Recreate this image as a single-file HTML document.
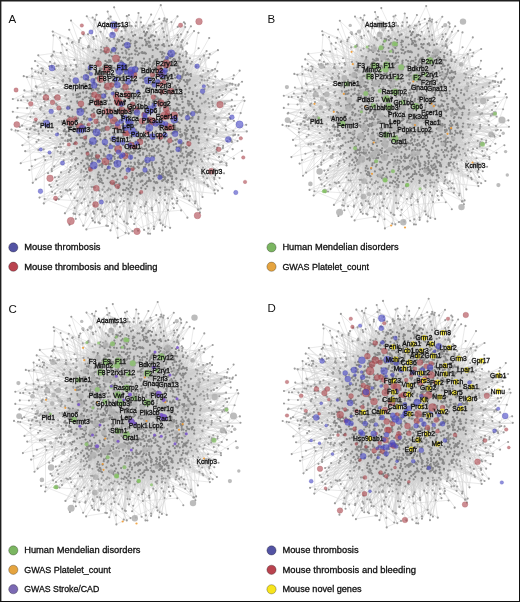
<!DOCTYPE html>
<html><head><meta charset="utf-8"><style>
html,body{margin:0;padding:0;background:#fff;}
body{width:520px;height:602px;overflow:hidden;position:relative;}
svg{position:absolute;left:0;top:0;}
text{font-family:"Liberation Sans",sans-serif;}
</style></head><body>
<svg width="520" height="602" viewBox="0 0 520 602">
<defs><filter id="bl" x="-5%" y="-5%" width="110%" height="110%"><feGaussianBlur stdDeviation=".55"/></filter><radialGradient id="hz"><stop offset="0" stop-color="#d2d2d2"/><stop offset=".8" stop-color="#d2d2d2"/><stop offset="1" stop-color="#d2d2d2" stop-opacity="0"/></radialGradient>
<g id="net"><ellipse cx="143" cy="113" rx="74" ry="84" fill="url(#hz)"/><path fill="none" stroke="#cccccc" stroke-width=".42" d="M127 71L131 83M53 144L98 137M53 144L72 133M134 58L141 82M61 163L65 142M61 163L131 76M61 163L98 137M51 103L93 107M225 156L198 128M225 156L186 145M152 34L118 59M152 34L172 86M152 34L117 54M238 130L188 107M238 130L217 132M105 97L117 104M146 76L130 69M118 123L134 148M100 122L109 97M138 171L156 105M63 85L93 107M63 85L87 94M63 85L97 101M154 100L149 123M114 217L122 148M118 122L100 119M187 148L191 129M166 149L177 74M211 172L190 125M211 172L190 181M141 215L153 150M141 215L170 186M173 144L146 169M96 75L191 127M153 150L152 110M105 87L100 148M154 70L151 64M198 31L170 65M198 31L163 58M198 31L164 83M164 44L142 97M164 44L148 51M169 43L134 58M169 43L134 58M106 99L110 125M147 170L150 76M153 105L126 65M188 107L142 117M74 93L107 159M131 43L150 111M139 148L182 142M134 215L134 148M134 215L138 160M91 141L98 137M158 77L162 94M52 121L84 115M52 121L74 127M52 121L107 120M95 157L91 83M141 172L184 142M150 131L92 89M178 151L97 101M149 93L139 109M106 110L115 68M136 79L116 110M122 168L118 176M149 156L141 152M104 137L132 123M199 108L126 65M146 47L131 28M185 181L188 142M185 181L177 129M77 112L193 108M84 72L100 86M185 46L168 73M77 103L89 124M80 186L113 140M163 95L174 93M229 157L220 144M229 157L184 142M229 157L191 146M174 141L138 160M42 74L91 83M162 157L187 155M96 121L77 123M189 163L172 86M220 95L175 104M220 95L195 110M220 95L184 85M204 58L208 99M204 58L190 91M207 161L178 146M207 161L188 107M207 161L154 165M43 121L56 114M43 121L58 126M43 121L93 94M147 199L165 162M90 148L181 100M168 174L149 156M84 72L56 72M68 64L107 93M68 64L85 92M68 64L105 76M152 119L160 145M140 87L131 88M112 63L109 77M145 161L120 177M132 123L121 121M120 33L152 61M120 33L134 58M120 33L135 64M196 60L154 70M196 60L174 124M160 220L158 202M160 220L172 196M160 220L165 195M186 112L100 119M95 220L140 147M95 220L114 217M235 144L151 64M112 88L106 99M119 33L107 72M119 33L134 58M119 33L112 50M196 133L182 104M208 54L211 82M208 54L143 99M208 54L190 94M105 76L123 98M157 36L126 65M159 165L134 148M147 18L145 52M95 17L115 49M95 17L125 28M95 17L135 64M237 102L138 160M237 102L220 114M37 75L51 66M37 75L50 105M167 24L136 53M167 24L141 43M167 24L182 87M146 145L166 126M204 106L186 116M121 47L141 45M136 23L152 41M136 23L150 76M136 23L150 76M138 118L116 115M65 192L86 177M65 192L124 123M65 192L106 150M183 46L151 64M183 46L151 76M249 127L237 117M249 127L191 127M249 127L191 129M107 118L153 150M160 218L153 150M160 218L104 153M209 127L100 148M116 101L144 95M187 73L191 59M110 119L87 91M176 22L184 57M157 75L177 55M115 183L117 165M169 169L169 155M182 96L143 63M103 72L191 129M172 69L143 69M84 210L86 193M147 175L143 99M204 204L202 160M204 204L153 150M204 204L177 128M187 46L144 54M93 139L132 65M138 179L156 155M226 141L191 129M113 150L140 144M78 131L191 127M149 123L168 73M102 77L92 89M45 125L78 116M146 169L165 166M192 82L172 86M180 92L167 70M127 97L139 109M153 145L156 105M194 86L140 147M92 115L134 148M182 150L99 95M107 159L139 109M229 83L212 69M170 52L143 61M173 158L113 140M86 158L164 83M170 101L198 98M148 37L119 55M148 37L143 99M125 159L143 105M109 104L124 123M81 113L78 116M170 170L149 149M97 45L114 90M206 155L185 146M111 150L130 172M127 169L138 176M92 85L108 169M213 76L172 72M213 76L152 169M199 195L177 172M199 195L172 174M93 170L150 111M166 131L134 58M123 67L100 148M134 46L139 109M138 108L135 64M176 169L168 73M44 93L98 137M44 93L86 105M44 93L54 110M126 40L123 52M98 154L177 128M180 58L172 69M191 170L165 169M202 103L208 119M184 91L174 124M124 95L121 77M141 73L184 142M105 118L103 72M174 139L185 146M241 82L204 74M223 156L189 129M97 46L172 72M97 46L133 66M125 228L165 211M125 228L108 169M125 228L122 148M86 193L108 172M157 131L139 122M89 90L164 83M188 183L149 174M143 142L151 141M117 134L96 146M135 58L131 83M126 177L115 171M127 194L106 214M88 130L135 58M194 149L186 173M135 86L103 94M57 117L86 115M57 117L99 95M57 117L79 135M54 89L93 107M54 89L97 101M159 119L143 99M90 195L108 169M90 195L108 169M90 195L110 189M153 165L91 83M101 18L119 55M101 18L114 90M90 120L90 105M177 74L163 48M65 100L134 58M170 20L143 63M199 118L135 58M123 27L152 78M172 174L157 150M109 49L117 54M154 219L152 169M41 113L103 94M41 113L84 115M218 183L172 72M218 183L158 157M141 162L143 63M135 16L123 52M191 78L195 62M131 81L116 61M182 75L211 78M192 80L191 52M153 179L130 80M144 119L107 159M200 65L142 97M226 92L194 98M131 83L132 98M204 95L115 68M191 116L177 74M40 125L73 126M40 125L122 148M40 125L65 100M61 180L98 171M61 180L99 140M61 180L75 183M195 168L174 124M68 117L188 107M165 97L158 77M198 125L133 75M213 125L208 150M198 105L103 161M188 69L187 73M172 92L159 74M122 151L125 152M206 189L191 129M206 189L142 117M206 189L213 149M142 41L158 65M130 63L147 67M185 142L189 166M100 115L98 137M162 60L134 148M176 51L177 74M184 57L114 90M182 127L152 169M140 138L152 110M70 146L153 150M166 74L158 86M161 68L149 52M125 132L113 113M231 116L205 144M80 155L99 163M116 95L97 85M127 208L145 168M127 208L145 157M127 208L100 185M185 78L187 74M218 141L185 130M218 141L149 174M112 63L152 110M45 122L54 110M89 166L67 146M148 174L113 140M66 174L95 165M66 174L104 153M116 79L135 64M66 101L142 117M166 75L160 62M240 136L217 148M240 136L184 111M240 136L203 123M197 156L172 161M222 113L182 87M222 113L150 76M222 113L144 119M156 224L145 138M79 64L76 49M186 150L178 176M122 148L139 109M143 22L130 44M121 89L104 76M185 132L118 122M64 94L135 58M117 54L106 64M162 47L184 111M149 149L161 129M182 191L172 167M222 164L203 138M222 164L159 137M103 180L139 109M185 93L87 91M115 12L131 76M115 12L135 58M120 194L159 137M120 194L141 158M155 141L138 160M102 56L119 33M54 191L86 193M54 191L94 207M114 194L134 148M114 194L153 150M111 126L145 157M192 125L187 110M175 154L179 162M189 166L184 111M108 89L100 148M168 170L150 111M88 206L110 182M139 104L122 117M55 102L73 126M177 128L150 76M70 130L70 142M166 74L188 71M191 108L168 89M137 40L125 52M190 142L168 137M24 96L55 91M24 96L47 84M108 175L174 124M103 214L104 153M103 214L101 173M213 53L184 57M172 161L158 157M55 154L131 135M55 154L104 153M199 194L176 169M199 194L203 149M199 194L184 142M151 99L91 83M148 132L146 104M47 84L107 93M47 84L74 68M177 154L131 76M218 112L180 135M218 112L194 86M218 112L190 125M121 77L188 107M129 60L104 153M74 127L100 122M114 115L84 115M117 194L149 174M117 194L138 160M117 194L107 159M148 51L182 142M190 73L186 111M190 181L197 145M194 193L191 129M194 193L160 181M194 193L157 174M193 78L182 104M120 162L137 141M166 6L133 75M166 6L172 22M105 122L105 136M136 203L132 123M136 203L140 147M136 203L141 162M169 158L162 94M170 126L154 104M116 115L151 64M180 163L189 163M137 180L163 176M187 40L177 74M187 40L150 111M184 85L184 111M75 183L113 140M75 183L110 182M85 71L87 41M160 181L160 169M143 127L134 58M142 64L118 59M173 56L168 51M195 62L152 78M195 62L167 53M195 62L162 94M54 96L79 77M204 74L145 138M45 59L87 91M45 59L75 64M45 59L103 94M109 46L142 117M170 186L168 73M160 96L138 160M109 71L142 117M164 146L178 128M148 66L97 101M107 155L92 89M197 114L132 123M164 80L186 74M159 120L99 140M208 99L108 169M84 81L106 150M156 26L150 111M156 26L143 99M156 26L125 39M96 150L152 110M46 70L104 153M46 70L114 90M46 70L103 94M90 107L114 115M218 163L191 129M218 163L196 133M129 86L143 63M130 44L151 64M227 167L188 152M227 167L184 142M112 179L168 73M100 85L122 148M147 22L172 86M147 22L139 57M118 158L93 160M136 73L151 68M102 152L143 105M144 222L117 129M59 64L97 101M59 64L79 77M24 108L84 115M208 124L186 116M138 74L103 72M79 84L145 157M90 75L72 79M167 221L176 180M108 83L100 83M62 65L88 93M62 65L87 94M142 50L190 125M234 87L222 94M234 87L149 174M83 58L119 64M152 158L148 166M143 47L169 59M93 192L114 90M93 192L121 162M145 138L139 109M181 115L197 114M108 201L86 177M108 201L142 117M108 201L138 171M63 35L61 64M84 206L98 171M84 206L99 140M170 172L172 72M138 69L134 47M135 182L172 72M146 186L136 203M146 104L125 97M179 162L182 104M107 109L156 105M152 61L131 76M180 52L188 107M88 124L71 117M97 161L134 58M147 186L135 182M102 112L172 86M191 53L143 105M87 91L75 68M239 92L206 77M165 211L159 172M165 211L169 155M132 49L135 58M129 103L141 121M134 65L119 64M101 173L112 163M54 110L91 133M54 110L100 148M54 110L93 107M96 114L133 75M112 208L86 177M112 208L169 155M138 187L138 171M42 67L78 76M42 67L54 110M42 67L42 97M153 61L131 76M103 20L139 109M103 20L115 68M103 20L133 75M100 210L89 174M100 210L182 142M100 210L79 182M85 65L81 86M143 140L144 119M113 63L124 123M72 79L168 73M127 73L130 61M152 52L172 72M106 128L181 100M161 44L108 169M124 199L153 150M124 199L116 166M124 199L118 175M118 67L131 135M91 83L182 87M84 125L139 109M186 41L173 80M186 41L170 77M242 69L236 76M105 115L90 105M238 82L195 72M146 168L143 140M106 150L135 64M185 125L152 169M202 201L153 150M143 81L122 76M73 149L132 123M160 167L153 157M221 69L187 98M221 69L162 94M221 69L191 61M100 148L191 127M75 64L91 83M75 64L85 82M173 202L184 142M173 202L152 169M173 202L149 174M163 60L137 46M126 39L135 48M185 88L150 111M118 67L118 81M151 39L143 63M151 39L135 64M83 190L103 161M83 190L103 161M49 129L68 117M48 70L63 112M170 171L117 129M190 166L107 93M104 150L103 161M172 22L139 109M172 22L164 62M172 22L124 123M216 98L188 109M216 98L197 114M216 98L169 155M159 132L174 124M124 74L175 104M174 53L91 83M145 157L159 161M89 38L99 95M197 103L93 107M85 92L175 104M167 53L169 155M192 32L184 57M192 32L164 83M174 77L166 96M170 133L171 113M165 162L126 65M138 203L149 178M138 203L140 147M200 132L198 105M138 26L164 83M138 26L116 64M138 26L143 105M118 139L130 134M206 100L197 89M182 124L143 99M230 146L192 154M230 146L200 132M230 146L190 159M92 217L75 183M92 217L98 195M92 217L112 185M186 141L190 159M186 76L191 52M138 176L110 176M141 196L154 165M141 196L165 172M134 123L175 104M71 78L93 94M154 165L107 120M212 56L182 104M212 56L152 110M212 56L176 51M48 144L80 133M48 144L84 125M48 144L103 161M73 121L95 131M127 165L120 194M219 74L219 106M219 74L182 75M205 144L206 155M183 82L154 165M149 64L140 76M151 205L185 177M151 205L146 169M151 205L117 194M91 47L114 90M91 47L109 49M91 47L126 65M170 192L154 165M174 142L106 150M82 68L117 129M91 133L168 73M84 115L79 124M155 126L162 133M177 175L104 153M169 36L160 60M156 45L143 105M163 48L172 75M105 118L86 115M117 97L142 97M241 83L152 110M241 83L188 107M136 106L145 87M134 157L107 159M100 180L109 158M127 106L159 137M181 111L198 128M244 145L207 170M166 126L181 106M236 126L203 107M236 126L177 129M98 171L193 108M135 48L145 157M180 60L169 155M152 143L130 130M145 13L141 49M145 13L135 58M145 13L148 51M196 158L190 142M125 58L135 58M181 166L130 80M144 143L131 135M71 44L79 79M71 44L109 67M219 164L199 171M186 173L172 182M159 49L106 150M187 54L168 73M108 188L99 95M185 101L184 119M131 83L182 87M176 91L157 75M112 26L130 63M112 26L103 94M100 185L101 173M101 98L90 105M122 104L119 86M130 123L158 157M169 59L143 63M152 176L103 72M173 169L165 187M173 53L158 157M166 134L154 165M45 154L117 129M45 154L118 122M122 202L130 176M177 172L133 75M110 95L103 72M213 103L187 98M66 64L85 92M66 64L103 72M180 86L191 108M211 135L93 107M202 32L184 142M226 143L191 129M226 143L187 155M226 143L184 142M162 169L152 78M68 89L87 91M158 77L130 87M141 43L182 104M128 59L115 49M111 65L120 84M168 137L145 157M161 93L188 107M91 181L138 160M91 181L108 169M185 177L131 135M152 140L193 108M87 108L86 114M168 56L93 94M163 141L160 145M56 72L93 107M248 120L211 135M248 120L222 139M151 161L87 91M119 51L134 148M198 169L190 130M198 169L193 108M198 169L134 148M50 106L100 119M50 106L103 161M50 106L88 124M113 123L87 91M94 153L172 86M141 144L164 146M162 108L191 127M132 149L139 109M172 63L117 129M120 187L120 162M58 167L142 117M149 110L84 115M179 63L150 57M187 167L168 73M178 196L145 157M179 200L170 192M195 157L183 145M147 133L84 115M183 152L157 150M222 139L191 127M145 87L121 77M202 201L191 127M202 201L194 157M202 201L182 191M124 116L137 138M84 160L97 171M174 45L115 68M174 45L143 105M174 45L135 58M216 100L173 101M141 109L122 116M174 182L181 100M118 153L113 130M190 24L170 52M190 24L162 94M190 24L151 64M212 153L146 169M46 117L100 119M219 177L191 129M148 99L157 91M135 64L177 128M185 137L179 162M168 167L135 64M150 155L87 91M120 208L148 174M120 208L113 140M120 208L118 176M139 128L162 94M43 176L39 132M43 176L55 154M43 176L100 119M166 180L175 104M194 77L93 94M157 35L130 56M157 35L147 67M157 35L164 83M100 83L90 75M167 88L139 109M89 125L61 127M192 209L182 195M150 132L91 83M166 90L181 67M181 139L107 120M193 102L167 115M149 45L138 160M221 49L188 71M221 49L186 76M221 49L150 76M165 166L162 169M158 157L99 95M148 75L132 65M64 160L96 151M64 160L132 123M37 125L93 94M37 125L72 138M206 77L186 116M206 77L182 69M118 221L134 148M118 221L135 182M210 125L234 135M42 97L93 107M42 97L93 107M42 97L100 119M55 91L97 101M55 91L73 85M55 91L122 148M162 193L158 159M162 193L135 163M162 193L134 148M122 137L120 116M136 148L136 164M188 71L135 58M108 79L124 123M121 157L107 174M152 44L104 153M112 63L133 52M60 133L74 136M166 51L100 119M195 74L107 120M103 56L172 72M172 132L179 155M184 53L164 83M184 53L133 75M75 68L116 110M75 68L107 99M102 80L92 62M153 85L138 108M157 15L135 58M157 15L141 43M176 123L131 76M181 85L143 99M88 142L184 142M225 181L195 157M225 181L190 125M63 50L93 107M63 50L115 68M192 72L130 80M195 26L172 72M195 26L177 55M202 160L142 117M202 160L165 172M202 160L142 117M155 101L173 101M79 122L96 114M168 73L166 67M70 166L111 150M70 166L98 154M70 166L101 173M49 118L100 119M49 118L74 110M28 104L139 109M153 157L139 109M119 215L108 172M124 42L142 61M29 126L48 135M29 126L134 148M29 126L48 120M112 65L102 80M143 167L118 175M98 164L100 149M199 171L152 169M199 171L205 144M104 15L84 115M104 15L97 46M79 161L191 129M220 125L191 129M220 125L175 104M116 143L98 137M139 122L149 119M220 142L182 142M181 125L204 107M178 128L181 115M146 37L139 109M146 37L126 74M146 37L134 58M158 140L153 150M187 104L204 95M157 144L182 104M107 101L132 123M183 66L164 67M144 176L135 58M48 120L93 94M48 120L84 115M48 120L70 108M186 44L176 51M186 44L155 46M221 183L189 166M221 183L177 129M221 183L181 166M122 61L100 119M160 73L161 93M197 123L192 134M170 74L177 74M186 91L143 99M101 212L126 186M101 212L117 194M101 212L131 135M203 47L164 83M196 125L199 108M44 110L99 95M44 110L116 110M44 110L72 138M128 110L110 95M184 109L190 125M141 157L151 64M176 55L185 69M156 164L181 100M162 120L137 105M206 74L156 105M206 74L194 85M206 74L209 114M171 185L170 171M118 59L134 82M145 158L168 153M160 145L167 123M170 77L143 63M117 68L175 104M185 66L159 81M92 81L113 63M114 45L130 62M130 130L109 147M194 98L204 108M187 155L216 158M96 151L99 140M186 202L151 205M186 202L153 150M150 94L98 137M90 105L81 86M106 153L124 123M186 143L167 157M189 83L150 111M100 86L95 115M28 114L87 91M28 114L93 94M165 163L178 176M127 178L132 123M185 150L169 158M185 157L194 149M180 93L143 63M165 109L190 94M113 158L92 89M166 96L175 122M173 175L100 119M172 98L147 95M117 158L93 107M168 216L159 183M168 216L170 172M168 216L152 196M137 209L134 148M137 209L144 176M92 112L106 99M137 105L165 116M85 133L100 138M247 97L234 135M247 97L181 100M247 97L191 127M183 34L153 43M183 34L151 62M90 121L134 58M81 41L97 101M81 41L100 119M81 41L99 95M129 48L123 27M64 186L89 166M64 186L124 123M200 155L211 135M106 90L113 140M113 140L146 169M120 169L98 170M218 172L194 163M218 172L184 142M155 46L107 120M217 81L188 107M217 81L186 111M108 91L106 150M233 81L199 108M233 81L204 74M233 81L168 73M182 69L204 74M111 67L129 86M200 133L174 124M220 126L203 113M220 126L177 129M159 74L145 138M130 162L184 111M225 77L193 102M60 60L97 101M140 87L87 91M177 161L182 150M74 110L172 86M213 37L193 72M185 77L152 169M96 46L114 90M96 46L104 76M96 46L92 89M125 219L110 208M169 31L173 53M169 31L116 110M169 31L158 65M151 35L117 59M151 35L161 58M103 161L156 105M100 88L80 98M94 162L152 169M207 91L194 118M106 108L158 157M235 82L208 86M235 82L193 78M235 82L193 108M155 171L136 164M139 57L155 46M175 95L158 77M101 203L103 161M138 53L113 62M104 151L99 140M82 205L89 166M82 205L104 153M82 205L118 189M189 189L167 150M189 189L183 152M241 130L223 156M133 108L93 94M97 67L162 94M121 8L162 94M78 116L159 137M126 59L147 67M98 123L106 130M130 61L116 110M102 205L134 148M102 205L127 178M102 205L132 123M97 62L186 111M125 97L193 108M222 94L184 85M144 108L140 147M239 86L152 78M239 86L188 107M239 86L175 104M109 153L87 91M192 183L138 160M192 183L156 164M192 183L169 164M177 44L142 117M152 33L168 73M152 33L87 91M152 33L135 58M181 165L84 115M110 124L103 142M100 155L182 142M152 134L155 148M78 29L107 93M149 133L156 105M151 177L177 191M97 95L175 104M82 122L84 137M103 72L114 91M65 142L61 165M168 153L152 143M148 166L190 125M159 76L177 128M90 103L93 107M136 174L118 155M104 49L151 64M133 214L138 160M133 214L134 148M143 50L150 31M112 117L105 139M46 84L87 91M46 84L84 81M46 84L74 68M190 133L167 132M127 93L130 87M139 100L144 119M50 91L82 122M50 91L85 65M50 91L73 85M174 187L145 138M174 187L152 169M174 187L134 148M134 82L143 63M155 167L165 162M158 64L156 105M182 87L184 111M140 107L145 157M35 88L50 91M35 88L87 91M35 88L132 123M236 106L194 100M236 106L174 124M236 106L165 162M81 42L115 68M81 42L115 68M90 157L94 153M108 71L184 142M207 170L167 168M207 170L158 157M122 24L137 46M133 51L131 76M175 105L160 118M218 186L182 87M218 186L188 183M218 186L193 149M199 147L107 159M107 72L114 90M135 39L126 65M85 152L97 160M198 98L191 129M159 183L155 158M156 63L154 165M192 59L169 69M119 55L107 159M108 51L103 161M136 26L119 55M136 26L135 64M154 104L172 72M70 51L102 80M70 51L82 91M70 51L97 101M142 137L154 135M182 160L178 162M92 62L68 64M220 114L184 111M220 114L193 109M107 109L110 125M80 133L79 121M154 224L137 209M154 224L177 191M154 224L145 157M154 29L151 64M154 29L158 56M154 29L177 74M172 58L165 79M150 221L138 160M118 135L113 140M132 183L191 129M69 139L184 111M96 34L125 52M96 34L107 93M70 108L91 83M61 127L135 64M147 135L143 63M186 74L196 96M209 113L168 73M107 92L118 122M138 147L91 83M142 146L149 156M108 172L92 160M104 153L130 140M71 189L90 164M71 189L84 154M71 189L79 147M106 69L100 148M86 105L114 97M161 128L193 108M203 138L142 97M106 214L97 171M106 214L117 194M116 19L157 35M116 19L151 35M116 19L133 75M47 137L78 120M194 118L114 90M121 170L115 183M121 176L174 124M76 43L115 68M165 19L126 39M172 148L107 159M217 84L139 109M217 84L185 78M217 84L156 105M201 109L194 118M89 133L105 154M191 61L130 63M191 61L166 74M191 61L173 63M94 144L99 125M86 177L122 178M158 86L191 127M183 101L143 105M111 47L159 137M155 148L165 162M153 32L150 76M153 32L143 47M96 77L98 137M232 110L182 142M100 138L80 125M125 28L117 54M125 28L103 72M125 28L132 65M191 188L169 155M97 150L106 171M167 70L164 83M182 117L200 132M131 213L138 187M131 213L145 157M223 171L142 97M223 171L189 164M139 129L111 119M170 183L104 153M187 48L177 74M236 76L199 83M64 67L150 76M217 148L193 108M217 148L194 121M217 148L191 129M86 91L103 94M178 136L191 151M192 137L185 137M138 86L135 58M236 130L150 111M236 130L203 138M236 130L198 125M100 190L106 171M191 109L175 104M156 125L130 63M164 67L107 120M109 204L145 138M109 204L106 171M124 173L186 111M164 144L160 134M208 78L143 105M122 153L154 165M229 125L201 93M229 125L194 114M42 88L79 74M42 88L116 110M125 108L136 97M110 208L147 186M110 208L107 159M120 116L168 73M101 180L118 122M128 31L144 54M128 31L111 67M136 133L144 119M49 190L146 169M49 190L107 159M172 109L156 87M88 124L188 107M115 183L117 194M100 153L146 169M177 170L132 65M194 189L170 171M194 189L169 155M178 85L132 65M94 77L105 86M150 31L135 58M150 31L118 59M137 153L135 58M80 125L69 110M102 198L98 164M102 198L108 169M209 98L199 108M172 196L177 175M172 196L150 167M172 196L186 111M93 105L131 135M79 183L92 165M117 40L182 87M51 66L65 100M51 66L72 79M142 210L191 127M144 54L177 128M74 68L91 83M74 68L115 68M74 68L143 63M47 91L91 83M47 91L87 91M47 91L117 129M70 185L93 192M70 185L85 152M172 182L142 97M131 26L134 58M131 26L124 42M131 26L142 34M182 72L184 56M171 83L168 73M94 207L132 123M94 207L118 176M94 207L84 115M150 167L152 140M130 122L143 99M102 38L117 129M147 122L182 104M128 133L106 150M157 91L173 101M141 144L99 140M190 73L142 117M80 21L87 41M80 21L126 65M152 194L139 182M152 194L108 169M152 194L122 148M156 87L159 137M99 125L132 123M74 136L140 147M74 147L60 133M190 121L197 103M153 43L151 52M246 94L233 115M110 161L113 134M67 129L89 133M31 157L74 147M31 157L97 101M38 97L44 118M182 17L139 109M182 17L150 76M182 17L155 38M186 130L209 125M99 150L106 150M77 38L99 95M77 38L150 76M168 76L178 88M135 162L137 136M145 98L97 101M168 28L151 64M168 28L179 57M92 141L107 150M120 134L113 123M193 148L189 164M74 67L91 83M74 67L85 71M74 67L106 57M211 78L159 137M211 78L175 83M208 86L177 74M208 86L162 94M124 123L139 109M72 138L132 65M48 54L79 84M48 54L116 110M48 54L70 51M175 164L148 158M160 24L135 58M160 24L152 78M74 205L103 161M80 98L132 123M161 157L174 124M142 109L161 129M182 104L170 101M61 55L93 107M61 55L126 65M130 186L130 63M170 86L152 110M213 149L174 168M187 74L184 142M128 37L143 63M128 37L172 72M98 150L164 83M129 36L135 64M129 36L135 64M107 215L107 174M107 215L131 135M108 129L95 147M127 142L107 93M64 76L135 58M148 51L143 22M128 103L113 140M46 94L84 115M110 71L126 65M230 136L197 155M230 136L177 128M150 73L117 129M53 116L100 119M40 164L72 138M40 164L99 140M197 91L174 124M184 56L173 53M186 145L188 107M136 144L100 148M233 115L182 104M233 115L150 76M233 115L217 132M158 65L158 55M169 55L145 157M161 36L184 111M161 36L151 64M112 139L103 127M121 105L128 106M138 185L159 172M190 27L139 109M190 27L177 55M190 27L170 45M174 93L134 58M177 81L157 82M131 76L110 73M160 169L150 111M117 129L118 155M162 142L150 131M104 147L96 153M88 39L91 83M123 88L165 162M91 96L82 91M170 65L164 78M88 180L97 101M88 180L104 139M187 98L98 137M163 58L166 74M104 86L191 127M99 115L92 89M116 166L122 168M151 62L129 48M192 100L182 72M83 145L91 83M195 110L171 113M230 83L177 74M112 185L120 194M187 110L188 107M186 180L178 146M186 180L165 162M104 76L152 78M182 193L154 165M155 45L172 63M139 131L107 159M147 67L91 83M77 123L93 107M212 69L174 53M126 74L149 174M144 127L150 76M144 160L87 91M199 151L184 142M156 164L175 157M149 80L99 95M179 58L176 55M72 148L150 76M190 68L151 64M175 74L177 128M141 71L150 111M172 136L158 134M139 90L140 107M169 158L158 157M107 89L90 105M96 198L130 183M96 198L98 137M96 198L110 159M156 60L122 148M118 59L182 142M142 65L186 111M143 182L99 95M176 167L177 191M133 147L133 75M243 109L152 110M108 125L107 120M50 105L81 121M50 105L99 95M77 123L140 147M87 41L92 89M191 127L124 123M172 40L172 72M172 40L151 72M112 28L103 94M184 155L165 163M192 97L184 109M103 142L139 109M42 160L79 147M58 96L94 81M58 96L113 140M191 59L107 93M191 59L187 74M191 59L133 75M97 78L80 98M114 65L137 61M45 118L107 120M45 118L107 120M123 52L108 71M161 118L177 128M156 85L103 94M101 87L96 114M192 43L160 62M212 179L153 150M212 179L159 137M212 179L145 138M115 64L116 61M123 110L193 108M106 201L118 189M106 201L90 164M106 201L117 129M237 73L150 111M61 151L81 121M61 151L93 173M169 79L175 83M159 61L113 140M23 125L48 144M122 82L92 89M77 183L107 159M64 62L92 89M64 62L91 83M182 195L159 165M109 173L98 154M102 81L142 117M52 69L99 95M52 69L115 68M138 73L128 60M193 140L166 135M104 36L132 65M118 182L133 160M146 149L182 142M191 52L157 75M191 52L159 49M165 169L139 109M107 120L91 83M166 215L182 193M166 215L165 195M164 120L133 75M212 95L186 111M212 95L177 128M212 95L173 96M148 61L143 63M129 76L126 65M152 89L133 66M151 64L145 157M141 101L128 105M94 169L177 74M100 107L130 63M107 150L103 153M135 122L184 111M152 182L117 129M157 119L171 101M178 182L176 166M189 65L168 51M175 219L170 183M175 219L141 196M190 50L162 66M190 50L172 72M190 50L172 69M83 200L142 117M83 200L159 137M83 200L122 148M133 215L134 148M133 215L117 129M177 73L191 129M122 79L135 64M150 120L128 105M150 26L128 37M150 26L155 38M48 64L66 101M210 50L177 128M210 50L174 124M210 50L177 74M120 73L131 135M204 80L187 73M168 99L153 85M216 102L185 93M216 102L186 111M183 27L103 72M174 112L180 123M154 68L153 43M151 51L103 94M134 16L130 80M134 16L150 76M134 16L151 35M139 169L151 177M121 121L144 119M179 106L177 129M172 35L182 87M172 35L177 80M145 100L181 100M131 133L158 157M97 171L124 123M123 206L124 123M123 206L103 161M143 99L182 104M67 178L98 137M67 178L100 148M155 66L172 86M137 136L114 90M118 60L135 58M168 51L182 75M203 123L131 135M120 128L145 112M131 38L160 66M113 59L123 52M113 130L137 136M64 171L104 153M64 171L113 140M127 104L145 157M138 160L155 173M223 87L193 108M223 87L201 93M223 87L197 114M71 117L79 135M160 118L168 141M112 124L130 134M134 187L137 209M126 101L177 128M187 93L186 112M155 120L165 111M97 124L84 125M160 80L175 62M145 112L139 90M146 60L173 63M62 31L152 78M62 31L76 49M62 31L97 46M152 155L153 145M208 150L158 157M176 180L166 180M187 39L173 58M187 39L190 73M128 188L125 181M94 81L72 79M79 147L96 146M140 35L134 58M140 35L156 60M140 35L134 58M152 114L91 83M68 142L93 94M125 39L132 78M125 39L115 68M125 39L143 63M165 169L134 58M109 113L93 94M137 157L162 169M180 127L139 109M67 146L138 160M188 138L203 138M114 140L137 141M95 70L162 94M39 132L106 150M39 132L70 105M39 132L93 107M103 127L135 58M156 145L172 86M116 39L93 94M116 39L115 68M54 196L113 140M54 196L54 151M54 196L70 166M216 93L150 76M216 93L179 95M169 173L188 107M133 181L130 183M175 66L143 99M134 150L182 142M216 158L198 169M177 191L182 142M177 191L159 137M58 122L79 124M136 63L143 61M74 125L61 151M113 52L123 48M139 109L155 101M70 105L159 137M159 35L151 68M157 150L149 174M163 80L169 55M199 151L195 157M172 86L170 58M168 44L143 63M168 44L163 58M195 72L152 169M81 106L93 107M148 105L148 99M135 58L138 63M121 141L99 95M175 62L177 128M159 97L172 81M193 108L106 150M160 175L188 107M135 224L121 193M135 224L93 107M158 202L106 150M158 202L170 172M97 101L81 113M142 26L130 80M203 138L190 125M188 142L117 129M200 108L107 93M62 184L106 150M62 184L106 150M62 184L100 148M170 19L164 83M170 19L174 53M170 19L180 58M150 161L134 148M128 188L145 157M133 75L117 129M136 97L140 87M183 145L144 119M33 140L97 101M33 140L52 121M33 140L77 135M167 157L140 147M57 121L79 135M57 121L84 154M57 121L73 118M107 166L100 180M116 85L117 129M147 142L191 127M234 103L190 125M234 103L168 73M234 103L202 103M114 91L139 90M153 124L174 139M152 196L144 119M152 196L155 158M152 196L149 178M38 104L75 92M51 71L69 110M133 75L148 75M123 169L93 94M180 73L160 66M29 97L100 119M78 216L103 161M111 110L182 142M95 90L94 77M199 83L173 80M237 117L149 174M237 117L150 111M237 117L207 91M41 124L91 83M41 124L79 135M41 124L78 120M157 174L180 164M182 62L162 94M194 114L176 91M170 180L149 174M170 132L194 121M182 39L180 83M108 31L162 94M108 31L143 99M108 31L152 78M164 83L145 98M143 63L120 49M228 100L211 135M228 100L212 130M228 100L177 129M188 22L143 105M170 218L177 176M170 218L178 176M138 32L188 107M138 32L144 67M138 32L131 76M234 135L182 104M194 85L186 74M233 134L203 127M233 134L154 165M233 134L139 109M111 119L93 107M36 146L77 135M36 146L143 63M36 146L72 148M136 196L145 157M48 127L77 136M150 57L142 117M211 178L181 166M211 178L138 160M211 178L191 129M159 39L152 110M159 39L143 105M159 39L163 58M33 121L99 140M33 121L50 91M33 121L68 142M175 83L161 68M132 91L146 169M95 165L84 160M172 65L103 94M152 139L116 110M178 162L150 111M142 125L136 103M155 38L168 73M155 38L182 104M200 132L206 155M170 132L162 157M193 72L131 135M53 67L71 78M53 67L55 102M53 67L114 90M108 169L140 147M172 147L164 83M118 51L146 169M161 176L170 186M106 82L106 150M67 80L101 87M67 80L95 90M112 104L190 125M244 79L190 125M59 178L96 158M59 178L117 129M59 178L94 169M107 69L102 80M132 98L129 86M119 119L105 118M220 129L191 162M54 151L122 148M130 176L84 115M101 125L113 134M168 89L181 67M123 45L102 56M186 139L91 83M187 96L193 108M227 149L184 142M227 149L193 140M227 149L182 142M228 121L177 129M228 121L202 103M228 121L201 93M97 70L108 71M127 151L100 119M158 55L151 68M165 111L158 157M120 150L159 137M169 21L143 105M169 21L174 45M169 21L141 49M74 205L101 173M74 205L106 150M74 205L145 157M156 155L107 159M196 147L172 161M121 38L129 48M121 38L126 59M137 131L108 129M160 68L159 137M159 143L177 128M99 145L100 149M108 70L119 86M222 94L152 110M222 94L209 127M122 178L95 168M58 126L88 105M58 126L74 125M163 176L181 100M132 30L149 52M132 30L191 127M132 30L135 64M131 97L145 87M168 141L142 146M235 137L222 113M235 137L177 128M235 137L138 160M152 96L108 169M130 73L127 96M131 67L122 79M203 107L209 114M148 121L182 87M161 58L135 64M203 127L190 125M46 125L100 119M46 125L116 110M76 116L86 99M143 47L142 117M132 100L150 76M68 192L86 177M102 109L105 97M112 165L141 172M155 150L147 122M212 84L191 129M82 92L91 83M85 82L90 103M98 195L118 175M98 195L89 166M98 195L122 168M132 224L109 204M132 224L145 157M78 166L79 161M94 68L138 160M59 88L87 91M59 88L101 98M193 109L174 90M166 67L103 72M142 34L127 56M142 34L133 63M99 91L145 138M183 37L176 55M183 37L154 41M185 127L132 65M180 123L153 150M155 158L104 153M179 58L181 100M186 34L135 64M155 58L162 75M173 80L166 74M110 158L104 147M132 78L113 62M113 113L136 103M209 125L124 123M218 171L192 154M218 171L186 141M218 171L173 173M164 143L168 123M211 82L192 112M211 82L182 96M211 82L180 73M149 96L172 102M158 200L159 137M158 200L139 169M158 200L144 119M90 118L90 121M26 126L54 151M143 41L159 61M39 129L84 115M39 129L70 130M39 129L103 94M76 49L103 72M160 40L134 46M118 81L114 90M124 82L109 91M141 195L158 157M141 195L145 138M141 195L123 185M204 94L159 137M121 194L95 168M139 222L110 189M139 222L106 201M30 122L91 83M30 122L142 97M137 61L126 40M59 87L95 109M217 132L181 106M217 132L146 169M219 106L186 112M219 106L174 124M219 106L191 129M154 116L166 134M162 133L116 110M191 55L170 77M191 55L159 62M94 205L146 169M94 205L108 169M164 140L169 169M159 103L149 93M114 37L137 43M114 37L108 79M86 98L191 129M89 174L177 128M207 69L187 73M172 72L191 129M56 114L114 90M56 114L93 120M167 120L104 153M172 75L152 71M151 198L115 183M151 198L165 162M122 76L139 109M165 39L150 76M109 158L164 83M174 124L159 132M108 131L99 111M106 168L91 155M104 123L89 118M165 195L169 164M165 195L143 182M115 49L97 70M46 173L93 94M46 173L124 123M46 173L61 163M124 108L111 110M92 160L110 158M212 130L185 132M79 135L144 119M62 54L91 83M62 54L143 63M62 54L103 72M84 138L153 150M73 118L177 74M113 82L133 75M94 83L122 76M213 100L150 111M213 100L132 65M184 80L164 83M78 76L118 122M169 69L159 74M162 32L170 65M162 32L177 74M162 32L163 45M159 22L139 109M159 22L149 45M159 22L134 46M172 167L124 123M61 165L107 93M164 186L152 78M115 68L131 67M48 135L73 149M48 135L80 136M174 90L93 94M197 164L177 154M148 27L172 72M171 113L149 119M115 217L110 176M86 114L143 63M169 164L180 164M139 84L161 96M44 118L115 68M44 118L73 85M44 118L72 138M188 70L100 119M152 151L137 138M236 153L191 129M195 131L98 137M86 115L158 157M118 17L103 72M118 17L133 75M118 17L89 38M197 104L180 121M85 152L70 166M222 151L186 111M101 36L84 115M101 36L137 61M101 36L103 72M169 151L143 99M119 64L186 111M149 147L108 169M172 20L138 32M172 20L176 51M172 20L177 53M110 182L103 72M220 146L185 127M220 146L183 152M141 49L160 68M190 91L168 73M186 150L209 143M53 126L80 155M53 126L84 154M138 208L166 180M113 88L132 123M92 34L118 60M92 34L106 59M128 136L149 133M216 68L162 94M230 159L196 158M230 159L192 154M230 159L188 107M152 78L166 104M54 98L114 90M185 69L138 160M68 170L106 150M68 170L109 172M201 118L180 123M91 138L93 134M109 172L106 153M102 106L130 63M184 137L116 110M184 184L181 172M184 184L178 162M109 147L154 165M160 145L184 111M160 166L168 141M99 93L106 99M189 129L143 99M34 94L91 83M34 94L97 101M34 94L99 140M137 163L162 94M198 128L199 151M69 37L84 115M219 119L190 125M219 119L181 100M156 89L130 80M132 27L148 66M132 27L142 53M132 27L155 66M137 43L103 94M152 86L162 60M205 200L153 150M181 106L163 95M194 57L143 105M112 80L129 103M154 41L135 58M32 97L103 72M32 97L103 94M116 59L139 109M129 121L107 120M160 62L143 69M28 113L116 110M28 113L98 137M28 113L113 140M61 64L107 93M61 64L116 110M61 64L107 120M116 158L112 165M34 74L114 90M34 74L73 74M34 74L114 90M220 144L205 153M121 76L110 95M221 61L206 100M192 134L99 95M154 110L133 75M177 176L166 171M197 113L175 104M161 103L139 100M183 118L100 119M97 160L91 83M131 28L181 100M131 28L152 42M131 28L153 61M144 67L103 94M186 60L113 140M229 86L182 104M229 86L196 60M229 86L195 110M152 110L159 97M208 176L158 157M208 176L193 108M208 176L159 137M155 26L142 34M155 26L117 40M79 182L104 153M131 154L182 142M149 109L188 107M208 54L117 129M208 54L216 93M208 54L195 62M135 144L130 123M180 121L142 97M190 125L193 149M75 129L73 126M176 146L177 128M201 90L190 73M63 112L132 65M130 56L103 161M177 157L150 167M150 111L103 161M93 173L109 158M170 45L160 66M170 45L132 65M123 175L124 123M218 67L155 117M218 67L147 95M218 67L148 104M218 67L175 95M218 67L172 92M218 67L181 100M218 67L172 109M218 67L163 95M218 67L176 91M218 67L169 89M218 67L164 96M218 67L173 101M218 67L192 82M218 67L160 118M218 67L150 111M218 67L150 94M235 81L181 95M235 81L190 94M235 81L196 101M235 81L196 96M235 81L161 118M235 81L166 121M235 81L176 91M235 81L154 100M235 81L167 98M235 81L180 107M235 81L182 104M235 81L165 116M235 81L197 103M235 81L187 98M235 81L185 101M235 81L204 94M235 81L170 101M235 81L161 93M235 97L175 110M235 97L204 107M235 97L152 110M235 97L160 103M235 97L156 125M235 97L187 96M235 97L196 101M235 97L188 104M235 97L191 108M235 97L181 106M235 97L187 104M235 97L159 103M235 97L167 98M235 97L175 105M235 97L183 106M235 97L165 107M232 114L174 112M232 114L197 114M232 114L186 116M232 114L179 106M232 114L194 114M232 114L150 122M232 114L186 111M232 114L160 118M232 114L188 109M232 114L167 115M232 114L157 119M232 114L181 111"/><path fill="none" stroke="#9c9c9c" stroke-width="2.1" stroke-linecap="round" d="M76.2 104.6h0M53.5 143.9h0M61.2 162.6h0M51.2 103.5h0M224.8 155.6h0M237.7 129.8h0M62.6 85.3h0M113.8 216.8h0M210.7 171.5h0M140.6 215.2h0M165.4 187.4h0M198.2 30.8h0M74.2 92.6h0M134.4 215h0M52.2 120.9h0M184.6 181.1h0M84.4 71.9h0M185.3 46h0M76.7 102.8h0M79.7 186.2h0M229.4 157.1h0M42.4 74.1h0M219.8 94.8h0M203.9 57.7h0M206.9 161.3h0M43.2 121.3h0M147 199h0M84.1 71.8h0M67.7 63.7h0M120 33.2h0M196.2 60.1h0M159.6 219.9h0M94.6 220.4h0M235.4 143.7h0M118.9 32.9h0M207.6 54.1h0M147 17.8h0M95 16.6h0M237.5 102.3h0M37.4 74.7h0M167 23.6h0M136 22.7h0M65.4 192.2h0M182.6 45.7h0M249 126.7h0M159.6 217.6h0M208.7 127.3h0M176.5 22.2h0M114.6 183.1h0M84.4 210.3h0M203.9 204.3h0M186.7 46.3h0M226.2 140.6h0M44.6 125.3h0M229.4 83.3h0M121.5 187.5h0M137.1 187.4h0M116.1 181.2h0M96.8 44.8h0M206 155.4h0M212.8 75.6h0M199.1 195.5h0M92.6 170.1h0M43.8 93.3h0M191.3 169.7h0M241.3 81.6h0M223.3 156.2h0M97.1 46.1h0M124.9 228.4h0M85.8 193h0M187.7 182.9h0M127.2 193.8h0M57.3 116.6h0M53.9 89.4h0M90 195.3h0M100.6 17.8h0M65.4 100.3h0M170 20.5h0M122.6 26.9h0M108.6 48.8h0M154.3 219.4h0M40.7 112.8h0M217.8 182.9h0M194 162.5h0M135.5 15.5h0M200.3 64.7h0M225.5 92h0M204.3 95.1h0M40.3 124.6h0M60.5 179.6h0M194.6 167.8h0M68.1 117.1h0M213.4 124.9h0M206.4 189.4h0M69.9 146.2h0M230.8 115.6h0M80.3 154.5h0M127.1 208.2h0M217.8 140.9h0M44.7 121.9h0M89.3 165.7h0M65.8 174.2h0M66.2 101.4h0M240.1 135.9h0M196.7 156.5h0M222.1 113.4h0M155.9 224.5h0M79.5 63.6h0M142.6 22.3h0M63.9 94.1h0M181.8 190.6h0M222.2 163.6h0M102.6 180.4h0M115.1 12.1h0M120.4 193.9h0M101.6 56.1h0M54.4 191.3h0M114 193.9h0M134.5 191.4h0M88 206.2h0M55 102.1h0M69.7 129.9h0M23.8 95.7h0M102.8 213.7h0M213.4 52.8h0M55 154.1h0M199.5 193.6h0M46.6 84.5h0M217.6 112.1h0M208.8 142.8h0M117.3 194.4h0M189.8 181.2h0M193.7 192.8h0M166.2 6h0M136 202.9h0M187.3 39.5h0M74.9 182.5h0M85.3 71h0M195.1 62h0M53.7 95.7h0M204.3 73.5h0M45.2 59.4h0M108.8 46h0M170.4 186.2h0M208.3 99h0M84.5 80.9h0M156.4 25.6h0M45.5 69.5h0M218.1 163.2h0M227.1 166.8h0M111.6 179.4h0M100.9 50.3h0M147.1 22.3h0M144.3 221.6h0M58.7 64.4h0M23.8 107.9h0M208 124.4h0M78.6 84h0M89.9 74.8h0M167.5 221.4h0M61.6 65.2h0M233.8 87.2h0M83 58.3h0M92.7 191.5h0M108.3 201.4h0M62.8 34.9h0M83.8 205.7h0M146.6 186.5h0M190.9 52.7h0M239.3 91.6h0M165.2 211.3h0M100.9 172.7h0M54.2 109.9h0M112.2 207.9h0M138.3 186.9h0M42.1 66.6h0M102.9 19.9h0M100.1 209.7h0M85.2 64.8h0M72.1 79h0M124.2 198.9h0M70.9 132.8h0M186.2 41.1h0M242.1 68.6h0M238 82.3h0M202.5 201.4h0M72.9 148.8h0M220.6 69h0M74.6 64.3h0M173.1 202h0M83.2 190.4h0M48.9 129h0M48.5 70.3h0M189.9 165.8h0M171.6 21.7h0M215.7 98.3h0M88.8 37.5h0M192 31.7h0M138.3 203.2h0M138.1 26.1h0M72.4 77.5h0M84.3 162.1h0M205.8 100.1h0M230.3 146h0M91.6 216.8h0M178.9 177.7h0M84.6 63.1h0M141 195.6h0M71.4 78.1h0M212.4 56.3h0M48.4 144.4h0M218.7 74.3h0M205.3 144h0M151.4 205h0M91.2 47.4h0M170.1 192.3h0M81.7 67.6h0M169.5 36.4h0M240.9 82.8h0M99.6 179.8h0M244.4 145.3h0M236 126.1h0M98.1 170.9h0M144.7 13.5h0M195.6 158.4h0M71.3 43.6h0M218.8 164.3h0M185.5 173.2h0M107.7 187.6h0M112.3 26.3h0M99.9 184.8h0M45.4 153.8h0M122.3 202.3h0M212.9 103.4h0M65.8 64.4h0M210.7 134.6h0M202.5 32.4h0M226 142.5h0M68 88.8h0M109.9 188.7h0M90.6 180.6h0M185 177.1h0M55.5 71.7h0M248.4 120.4h0M197.6 168.6h0M50.3 105.8h0M119.6 186.8h0M57.7 166.6h0M81.8 91.1h0M177.7 195.8h0M178.8 200h0M221.7 139.3h0M201.9 201.4h0M83.7 159.8h0M216 100.1h0M174.3 182.5h0M189.5 23.6h0M211.9 152.8h0M46.2 116.9h0M219.1 177.1h0M119.9 208h0M43 175.8h0M191.8 209.2h0M221.2 49h0M63.6 160.2h0M37.2 124.5h0M205.6 77.5h0M178.3 175.6h0M117.8 221.3h0M210.1 124.5h0M41.9 96.6h0M55.4 91.5h0M161.8 192.7h0M59.7 133.1h0M102.8 56.4h0M74.9 68.3h0M156.9 15h0M225.4 181h0M63.3 50.5h0M195.2 26.2h0M201.6 160h0M70.2 165.9h0M49.1 118.4h0M28.3 104.4h0M119.3 214.5h0M28.7 126.1h0M198.7 171.2h0M104.4 15.2h0M79.4 160.9h0M220.3 124.8h0M220.4 142.4h0M80.7 153.6h0M79 77.4h0M47.6 119.7h0M185.9 44.4h0M221.2 183.3h0M100.9 212h0M202.6 47.2h0M44 109.5h0M209 109.9h0M206 74.4h0M170.6 185.5h0M114.2 45.3h0M185.8 202.2h0M27.7 113.5h0M168.2 216.2h0M137.3 208.5h0M246.8 97.4h0M182.5 34.5h0M81.3 41.2h0M64.5 186.1h0M200.1 154.5h0M217.8 172.5h0M217 80.6h0M232.9 80.9h0M220.3 126.4h0M225.4 76.8h0M59.6 60.2h0M73.6 110h0M212.8 37.4h0M96.1 46.3h0M124.5 219.2h0M169 31.5h0M207.1 91.1h0M235.2 81.9h0M101.2 203.4h0M82.2 205.2h0M188.6 188.7h0M240.9 130.2h0M121.3 8.1h0M102.1 205.3h0M96.6 61.7h0M92 165h0M222.4 93.9h0M239 86.1h0M192.5 183.4h0M78.1 29.5h0M106.8 183.3h0M65.4 142.4h0M103.6 48.6h0M133.4 214.5h0M45.9 83.6h0M50.4 91.3h0M173.7 186.8h0M34.9 87.5h0M235.7 105.9h0M80.7 41.9h0M207.2 170h0M75.5 96.2h0M71 118.1h0M121.8 23.6h0M218.4 186.1h0M192 59.2h0M187.4 172.9h0M108.3 51.3h0M136.1 25.6h0M69.1 109.9h0M70 51.5h0M92 61.9h0M220.4 114.2h0M64.2 142.3h0M154 224.4h0M154 28.5h0M150.1 220.8h0M69.4 138.7h0M96.2 33.9h0M70.2 108.3h0M61.2 126.7h0M209.4 112.7h0M78.9 163.7h0M70.5 189.1h0M106.3 213.7h0M115.8 18.8h0M46.6 136.7h0M75.8 42.8h0M164.8 19.1h0M216.6 84.4h0M86.4 177.3h0M111.5 46.6h0M208.4 118.9h0M232 110h0M125.4 28.1h0M191.2 188.1h0M130.9 212.8h0M222.8 171.3h0M170.3 182.8h0M187.1 47.8h0M235.7 76.4h0M64.3 67.3h0M217.1 148.3h0M203.1 149h0M236.1 130.5h0M100.3 190.1h0M109.4 203.9h0M130.7 193.3h0M208.4 77.8h0M229 125h0M42 88.1h0M110 207.6h0M101.3 179.9h0M128.4 30.9h0M49.5 189.9h0M115.2 182.9h0M194.3 188.6h0M102.1 197.6h0M209.4 98h0M172.1 195.6h0M78.8 182.8h0M117.4 40.2h0M51.3 66.3h0M141.7 209.7h0M74 67.8h0M47.1 90.6h0M69.7 184.7h0M172 182.4h0M109.9 50.1h0M130.8 26.1h0M93.8 206.7h0M101.7 38.3h0M95 168.3h0M79.8 20.7h0M152.4 194.3h0M74.3 135.5h0M73.9 146.5h0M245.7 94h0M67.2 128.6h0M31.4 157.1h0M38 97.3h0M182.3 16.8h0M77.2 37.7h0M167.9 28.2h0M74.3 66.8h0M211.1 77.8h0M208.4 86.2h0M72.4 138.4h0M48.3 53.9h0M160 24.4h0M73.9 204.9h0M60.9 54.9h0M129.9 186.2h0M213.1 149h0M127.7 36.7h0M107.5 214.6h0M63.6 75.5h0M45.8 93.5h0M230.3 136.2h0M53.3 116.4h0M39.6 163.6h0M233.1 114.8h0M189.7 26.9h0M70.1 141.6h0M87.6 39.5h0M88.4 180.2h0M75 91.7h0M71.9 132.9h0M229.8 82.7h0M112.4 184.6h0M185.6 179.7h0M182.2 193.1h0M211.7 69.1h0M204.8 153.3h0M72.5 148.3h0M66.6 124.2h0M96.3 197.8h0M243.1 109.2h0M50 104.8h0M87.4 41.2h0M112.3 28.2h0M42 160h0M57.7 95.9h0M191.4 59.2h0M45.5 117.8h0M191.6 42.6h0M211.8 179.2h0M105.7 201h0M236.5 73.1h0M60.6 151h0M22.5 124.9h0M76.5 183.2h0M63.9 61.7h0M181.6 195.4h0M52.4 69.1h0M104.2 35.5h0M117.9 182.3h0M191.3 51.8h0M166 214.6h0M211.7 95.5h0M93.7 169.5h0M178 181.7h0M175.2 218.9h0M69.6 147.6h0M190.3 50.3h0M83.3 200h0M133.4 214.6h0M149.7 25.5h0M47.7 63.9h0M210.3 49.9h0M204.1 80.2h0M216.4 102.2h0M182.5 26.8h0M133.5 16.5h0M117.8 188.5h0M172.2 35.1h0M97.5 171.4h0M123.1 206.1h0M73.4 84.9h0M66.8 177.9h0M143.2 188.5h0M64.3 170.6h0M222.9 87.2h0M70.8 116.9h0M165.8 184.7h0M134.5 186.7h0M62.2 31.2h0M208 150.3h0M176.4 180.1h0M187.2 39.3h0M128 188.3h0M78.7 146.9h0M68.1 141.6h0M66.9 145.8h0M72.9 73.5h0M38.8 132.2h0M116.4 38.9h0M53.6 195.5h0M216.1 93.5h0M216.5 158.2h0M177.1 191h0M58.4 122.2h0M70.4 105h0M135.3 224.4h0M157.9 201.7h0M87.9 79.8h0M142.1 25.9h0M208.6 114.4h0M98.1 63.1h0M61.6 184.4h0M169.7 18.6h0M127.6 187.7h0M33 139.9h0M56.7 121.1h0M234.3 102.7h0M151.6 196.2h0M37.5 104.5h0M51 71.1h0M28.7 97h0M78.4 216h0M236.6 116.5h0M41 123.9h0M170.3 180.2h0M182 39.2h0M108.3 31.4h0M227.8 100.2h0M188.5 22.3h0M170.4 217.9h0M138.2 31.8h0M234.2 135.5h0M232.8 134.2h0M35.7 145.6h0M136 195.5h0M48.3 126.6h0M211.1 177.7h0M32.7 121.2h0M79 73.7h0M52.6 66.7h0M66.9 80.2h0M244.4 79.2h0M59 177.8h0M219.8 128.6h0M53.7 150.5h0M227.1 149.4h0M228.5 121.2h0M89.9 163.7h0M168.9 20.7h0M74 205h0M121.2 38.1h0M222 93.6h0M78.9 78.6h0M57.8 126.4h0M132.1 30.1h0M234.6 136.7h0M126 185.9h0M45.8 125h0M68 191.5h0M212.3 83.9h0M81.9 91.8h0M84.7 81.7h0M193.7 166.3h0M98.2 194.5h0M123.1 185.2h0M132.3 223.6h0M77.8 165.7h0M93.9 68.1h0M58.9 88.3h0M183.1 36.7h0M185.6 33.9h0M209.4 124.8h0M217.6 171.1h0M211.2 82.3h0M157.5 199.7h0M26.5 125.7h0M39.1 128.7h0M75.6 48.9h0M140.6 195.3h0M121.5 193.7h0M139 222.1h0M30.5 122.4h0M59.3 86.7h0M216.7 131.5h0M219.2 106h0M196.9 155.4h0M190.6 55h0M94 205.5h0M114.4 37.4h0M121.1 192.7h0M88.9 173.6h0M207.1 68.6h0M56.3 113.6h0M150.7 198.3h0M164.5 194.9h0M46.1 172.6h0M211.9 129.8h0M62.1 53.7h0M212.5 99.7h0M78 76.1h0M161.6 31.7h0M159 21.8h0M61.3 164.7h0M72.8 154.3h0M164.1 185.9h0M48.5 134.7h0M196.9 164h0M148.3 27h0M115.4 217.1h0M193.1 163.9h0M44.1 117.9h0M236.5 152.7h0M117.9 17h0M222.3 151.1h0M101.2 36.5h0M81.1 86.5h0M172.2 19.6h0M110.2 182.4h0M219.8 146.4h0M52.5 126h0M137.6 208.2h0M91.8 34.1h0M215.7 68h0M229.5 159.2h0M54.2 98.2h0M68 170.3h0M184.2 183.5h0M33.8 93.5h0M69.1 37.1h0M219.4 119.5h0M69.7 105.9h0M132.3 27.5h0M204.6 200.4h0M194.3 56.8h0M31.7 96.9h0M28.3 112.8h0M61.2 64h0M34.3 73.9h0M219.9 144.1h0M221 60.7h0M131.3 27.9h0M211.1 135.2h0M228.9 86.5h0M208 175.7h0M155 25.5h0M78.5 182.1h0M207.7 54.3h0M63.4 112.2h0M92.8 173.3h0M218.5 67h0M235 81.2h0M234.6 96.6h0M232.5 113.7h0"/><path fill="none" stroke="#878787" stroke-width="2.2" stroke-linecap="round" d="M127.3 71.2h0M134.2 58.2h0M160.2 149.9h0M151.7 34.2h0M105.3 96.6h0M146.4 75.7h0M117.8 123.1h0M97.6 138.7h0M100.3 122h0M138.1 170.6h0M154.4 100.3h0M118.2 122.1h0M187.1 148h0M94.8 93.6h0M130 139.8h0M165.7 149.3h0M172.9 143.5h0M96.3 74.7h0M152.7 150.1h0M106 59.4h0M105.4 87.4h0M154 70.4h0M163.8 44h0M168.9 43.3h0M105.8 98.6h0M146.5 169.6h0M153 104.9h0M187.7 106.9h0M131.2 43.2h0M78.8 123.8h0M138.9 147.7h0M90.7 141h0M191.6 70.9h0M158.2 77.4h0M114.6 162.6h0M95.4 157.4h0M147.4 180.8h0M127.5 96.1h0M140.6 171.7h0M150.1 131.2h0M184.8 130.1h0M126.8 145.8h0M177.7 150.8h0M149 93.1h0M106.3 109.7h0M135.9 79.4h0M122.3 167.5h0M148.9 156.2h0M155.1 98.8h0M104.2 136.6h0M133.7 46.5h0M199.3 107.6h0M146 47.3h0M169.4 88.5h0M77 112h0M163.1 95.5h0M174.2 141.1h0M161.9 156.5h0M95.6 120.5h0M188.8 163.1h0M87.9 105.2h0M90.1 147.8h0M167.6 174h0M189 164.1h0M152.3 119.1h0M140.2 86.7h0M127.7 106.5h0M92.7 134.2h0M111.7 63.5h0M145 161.4h0M131.9 123.1h0M124.4 155.5h0M126.6 83.8h0M196.2 95.6h0M186 111.7h0M151.5 107.8h0M112.4 88.1h0M128.1 105.3h0M196 132.7h0M104.8 75.9h0M156.6 36.2h0M159.3 165.1h0M146.3 145.2h0M203.8 106.3h0M89.7 118.7h0M121.3 46.9h0M137.7 118.5h0M164.7 171.5h0M117.9 155.2h0M106.6 118.4h0M164.3 122.5h0M139.7 68.3h0M116.4 100.9h0M174.5 68h0M187.5 72.7h0M109.6 118.7h0M157.2 74.8h0M168.5 168.9h0M181.9 96.2h0M103.3 71.6h0M171.6 69.1h0M146.8 174.8h0M125.4 180.8h0M92.9 139h0M137.9 178.6h0M120.6 90.4h0M112.9 144.2h0M184.5 110.7h0M112.9 150.5h0M77.8 130.6h0M149.3 122.6h0M102.3 76.9h0M191.7 154.5h0M146.2 168.9h0M191.7 81.6h0M140.4 144.4h0M180 92.2h0M127 97.1h0M133.4 66.1h0M148.1 104.2h0M78.4 119.5h0M153.3 145h0M193.9 85.6h0M145.2 146.3h0M92.3 114.7h0M181.7 149.9h0M107.2 159.2h0M160.8 108h0M118.9 67.7h0M169.7 52h0M173.3 158.2h0M86.5 158h0M96.1 76.8h0M133 86.6h0M99.8 118.8h0M170.3 100.5h0M147.9 37.5h0M202.3 114.8h0M124.7 158.9h0M108.9 103.6h0M81.4 112.6h0M170 170.4h0M100.2 148.9h0M111.3 149.8h0M127 168.6h0M92.2 85.2h0M143.2 103.1h0M145.2 52.1h0M78.3 113h0M190.1 159.1h0M166 131.4h0M122.7 67.5h0M94.8 88.6h0M134.4 46.4h0M138.2 107.7h0M175.6 169.5h0M182.8 59.8h0M125.9 40.5h0M97.5 154h0M179.7 57.9h0M119.2 121.6h0M202.4 102.8h0M123.5 47.3h0M183.7 90.8h0M134.8 112.6h0M126.1 116.8h0M124.1 95.3h0M141.3 73.4h0M104.6 118h0M123.4 97.7h0M173.9 138.5h0M163.8 82.7h0M151.1 72.4h0M157.2 130.5h0M88.6 90.3h0M132.7 66h0M94.9 108.8h0M195 150.3h0M142.6 142.4h0M117.5 133.5h0M158.2 99.3h0M134.7 57.7h0M108.2 134.3h0M126.3 176.7h0M84.9 114.8h0M87.8 130.1h0M193.9 149.2h0M135.4 86.3h0M127.9 163.6h0M158.7 119.1h0M152.9 165.2h0M150.4 122.5h0M165.4 79h0M130.2 61.7h0M90.1 119.8h0M149.2 84.6h0M176.6 73.7h0M198.9 117.6h0M191.1 142.5h0M171.5 174.4h0M141 162h0M153.7 135.4h0M191.4 77.6h0M127.7 155.5h0M131.4 81.2h0M182 74.7h0M191.7 79.7h0M153 179.2h0M195.6 114.1h0M143.8 119.1h0M130.7 82.8h0M191.3 115.6h0M116.7 149.5h0M171.1 165.5h0M165.4 97.4h0M197.7 125.3h0M198 105.4h0M187.8 69.4h0M172 91.6h0M125.9 65.5h0M108.9 67.2h0M151 52h0M121.6 150.8h0M113.2 132.3h0M141.8 40.7h0M130 63.3h0M184.5 142.4h0M100.3 115.1h0M117.6 119.3h0M109.5 66.8h0M162.3 60.2h0M175.9 50.7h0M184.2 57.3h0M181.6 126.9h0M139.6 137.8h0M166.4 73.9h0M161.3 67.5h0M125.2 132.4h0M116.5 94.5h0M92.8 107.4h0M113.7 119.4h0M202.5 112.8h0M133.1 52.3h0M122.3 128.9h0M184.7 78.1h0M112.4 62.6h0M147.6 174.2h0M142.4 61.2h0M147.1 166.9h0M116.1 79.4h0M166 74.8h0M132.5 159.9h0M164.4 96.2h0M138.6 93.2h0M186.1 150.4h0M122.1 148.3h0M120.9 89.2h0M185.3 132h0M154.6 159.1h0M85.6 142.6h0M116.8 54.1h0M91.5 89.5h0M161.6 46.9h0M164.5 116.2h0M149.2 148.9h0M185.5 93.5h0M154.6 141.3h0M111.4 126.1h0M192.3 125.2h0M104.7 85.6h0M175.4 153.6h0M188.8 165.6h0M165.9 103.7h0M108.2 88.8h0M168.1 170.4h0M138.5 104.2h0M116.8 164.9h0M122.4 116.2h0M141.4 158.1h0M177.1 128.3h0M166.2 74h0M181 165.9h0M190.8 108.4h0M161.7 65.7h0M137.1 40h0M190.3 141.8h0M116.8 157.9h0M107.7 175h0M135.7 147.6h0M111.8 71h0M171.5 161.1h0M150.9 98.7h0M148.1 132h0M124.9 151.8h0M176.5 154.4h0M137.4 137.9h0M120.7 76.6h0M128.7 59.9h0M116.4 112.6h0M84 153.7h0M111.1 168.7h0M74.5 126.9h0M114.4 115.1h0M92 105.4h0M147.6 51.4h0M189.9 72.9h0M169.8 75.8h0M193 78.2h0M120.1 161.9h0M194.2 121.4h0M190.2 133.8h0M105 121.5h0M169.4 157.7h0M169.8 125.9h0M115.9 114.7h0M180.2 163h0M137.1 180.3h0M184 84.8h0M148.6 143.4h0M159.8 181.1h0M143.4 126.8h0M142.3 63.9h0M163.5 95.1h0M172.9 56.2h0M178.6 139.4h0M111.4 125.4h0M94.7 115.4h0M116 60.6h0M100 98.9h0M180.2 163.7h0M160.1 96.5h0M108.8 71.3h0M163.9 146.5h0M147.7 66.3h0M107.2 155h0M196.6 114.3h0M163.5 80.4h0M165.4 107.4h0M113.6 90.4h0M159.2 120.4h0M95.6 150.3h0M90.1 107.1h0M95.5 114.2h0M101.8 77.9h0M129.4 86h0M129.8 44.4h0M160 102.7h0M161.3 96.4h0M136.1 163.8h0M100.2 84.9h0M118.1 157.9h0M136 73h0M130.4 80.5h0M101.6 152.5h0M172.1 60.7h0M173.3 165.4h0M157.3 77.5h0M138.2 73.6h0M148 83.1h0M107.8 82.7h0M142.4 50.1h0M151.7 158.4h0M142.6 47h0M144.6 137.6h0M181.2 114.6h0M160.9 129.4h0M155.5 117.5h0M134.5 68.4h0M180.1 75.5h0M170.1 172.4h0M135.2 58.1h0M137.9 69.2h0M135.1 182h0M146 185.6h0M146.1 103.6h0M144.1 146.8h0M174.6 63.2h0M179 162h0M106.9 109h0M152.5 42.5h0M130.3 87.1h0M82.5 138.6h0M151.6 60.8h0M180.4 52.1h0M87.8 123.9h0M96.7 161.2h0M102 111.7h0M86.5 91.1h0M132.4 49.5h0M128.6 102.7h0M132.3 141.4h0M133.7 64.9h0M135.1 70.2h0M95.7 114.2h0M192.5 110.4h0M153.3 60.8h0M172.3 75.9h0M158.5 160.8h0M142.7 140.3h0M113.3 63.1h0M126.7 72.9h0M151.9 52.3h0M106 127.8h0M161.2 44.2h0M166.5 133.7h0M118.3 66.8h0M90.6 83h0M84.1 124.8h0M177.3 53.4h0M99.6 138h0M105.4 115.3h0M146.5 167.6h0M105.9 150.5h0M184.8 124.8h0M143.5 81h0M159.6 166.5h0M100.3 147.7h0M112.8 134h0M162.5 59.7h0M126.3 39.4h0M185.2 87.5h0M118 67h0M151.1 39h0M160.5 78.9h0M170.9 100.5h0M140.3 147.1h0M170.5 170.7h0M200.9 92.8h0M122.7 144.7h0M159.9 59.7h0M103.7 149.7h0M153.3 87.5h0M87.7 105.3h0M148.1 157.6h0M159.1 132.4h0M188.4 104h0M124.2 73.7h0M173.8 53.3h0M145.4 156.7h0M196.8 102.6h0M85.1 91.7h0M113.3 62.3h0M162 93.5h0M167.3 52.9h0M185.3 146.1h0M105.9 98.6h0M174.1 77.3h0M169.9 133.2h0M164.7 161.8h0M112.8 125.2h0M184.1 59.8h0M178.1 88.2h0M200.1 131.7h0M140.4 173.6h0M117.6 138.9h0M128.9 40.2h0M184.4 57.4h0M182.5 124.1h0M187.8 65.3h0M185.5 140.7h0M186.1 76.5h0M112.1 84.6h0M96.6 85.4h0M138.3 176h0M134 123.4h0M76.6 136h0M153.6 165.4h0M111.6 50.3h0M73.4 121.1h0M127.2 165h0M182.6 82.1h0M148.6 63.8h0M135.1 68.6h0M103.1 152.8h0M130 182.7h0M173.7 142h0M162.2 175.1h0M90.5 132.9h0M83.9 115.1h0M155.1 126h0M177.4 175.2h0M194.9 146.5h0M156 44.6h0M163.1 48h0M104.6 118.1h0M106.3 112.9h0M117.3 97h0M105.6 129.9h0M182.8 125.7h0M136.4 106.4h0M175.8 133h0M134.5 156.8h0M127.2 105.7h0M125.2 52.1h0M181.4 111.2h0M191.9 111.8h0M166.3 125.6h0M135.4 48.2h0M107 121h0M165.5 121.2h0M180.1 59.6h0M155.4 41.7h0M165.6 133.6h0M111.6 148.7h0M152.1 143.1h0M125.4 58.3h0M181.1 166.5h0M144.2 143.5h0M144.8 154.3h0M89.5 118.3h0M158.5 48.9h0M187.3 54.3h0M184.6 101.3h0M131.2 82.7h0M175.8 91.1h0M143.4 169.4h0M176.3 158.3h0M108.2 93.9h0M162.8 64.1h0M158.9 172h0M101.4 97.6h0M197.6 133.2h0M120.4 176.6h0M138.1 142.9h0M175.6 166.3h0M115.9 64.1h0M121.5 104.2h0M131.1 176.9h0M130.4 123.5h0M169.1 59.4h0M152.2 176h0M86.6 114.3h0M172.9 168.8h0M173.1 52.7h0M165.9 133.6h0M98.9 110.9h0M85.8 91.4h0M150 83.1h0M177 172.2h0M109.7 94.8h0M180.2 86.2h0M148.2 168.1h0M162.4 168.8h0M157.9 76.6h0M141.2 42.5h0M128.1 59.2h0M111 64.7h0M149.1 119.3h0M168.5 136.9h0M137.2 150.7h0M156.9 108.7h0M160.7 92.8h0M151.8 139.6h0M86.7 108.1h0M167.6 56.2h0M162.6 140.7h0M150.9 160.6h0M118.7 51.3h0M112.8 122.9h0M94.4 152.6h0M140.8 144.1h0M161.5 108.3h0M136.7 121.7h0M131.7 149.4h0M171.8 62.5h0M94.9 147h0M148.9 109.6h0M178.7 62.5h0M181.1 172h0M186.5 167.1h0M149.1 51.9h0M195.5 157.3h0M120.2 48.9h0M147.4 133.4h0M183.3 152.2h0M148.5 174.1h0M168.3 161.1h0M167.6 122.8h0M117.1 67.3h0M144.6 87.5h0M124.2 116h0M175.6 62.8h0M174.1 44.9h0M141.1 108.6h0M143 69.4h0M118.5 152.6h0M186.8 130.6h0M181.1 67h0M164.7 168.1h0M105.7 170.7h0M127.9 60.3h0M147.6 98.8h0M135.2 63.7h0M185 136.7h0M168.2 166.8h0M149.7 155.3h0M177.9 58.4h0M139.3 127.7h0M122.4 144h0M154.3 134.9h0M153.7 92.2h0M165.6 180.4h0M190.1 129.6h0M194.1 77.2h0M181.5 141.8h0M114.5 97.3h0M178.7 71h0M157.2 34.8h0M169.3 125.8h0M100.1 82.6h0M167.4 88.1h0M89.4 124.7h0M136.7 112.4h0M150.4 132.3h0M151.5 70.7h0M166.3 89.9h0M180.8 138.6h0M108.1 144.7h0M193.2 101.8h0M148.7 44.5h0M165.3 165.7h0M157.6 156.6h0M112.1 133.3h0M148.2 75.3h0M108.2 79.1h0M165.8 131.8h0M139.3 163.3h0M137.7 110.3h0M118 176.1h0M163.9 61.8h0M122.1 137.1h0M153.5 61.1h0M136.1 148.2h0M188 71h0M108 79.4h0M121.4 156.6h0M151.8 44.2h0M112.3 63.1h0M165.8 50.7h0M195.4 73.8h0M172.4 131.6h0M184.5 53h0M101.7 79.7h0M152.7 84.9h0M175.7 123.2h0M180.8 84.7h0M88.4 141.9h0M138 62.6h0M181.2 62.1h0M191.7 71.8h0M166.9 114.9h0M178.5 105.6h0M154.8 101h0M79.4 122h0M132.1 65h0M167.9 73.4h0M144.3 135h0M152.6 157h0M123.9 41.6h0M137.4 100.4h0M115.7 160.9h0M111.8 65h0M142.6 166.7h0M134.3 147.5h0M97.7 163.8h0M116 142.6h0M202.8 126.8h0M138.6 122.1h0M93.8 134.6h0M117.6 175.4h0M184.4 118.7h0M181 125.3h0M178.4 128.2h0M114.5 60.4h0M146 37.3h0M157.6 140.1h0M187 104.4h0M179.8 165.8h0M157.3 144.1h0M107.2 101h0M157.7 158.2h0M183.1 66h0M143.8 176.3h0M121.6 61.1h0M106.6 92.7h0M160.3 72.6h0M197.2 123.3h0M169.6 73.5h0M186.3 91.1h0M131.7 72h0M130.6 135.2h0M116.9 149.9h0M196.3 125h0M129 162.2h0M127.9 110.5h0M183.7 109.3h0M78.5 102.7h0M140.9 156.6h0M175.5 55.2h0M156.1 164.5h0M162.1 120.2h0M117.8 59.1h0M145.1 158.2h0M160 145.2h0M169.9 76.8h0M116.6 68h0M184.6 65.8h0M92 81.4h0M188.6 164.2h0M130.3 130h0M193.9 98.2h0M187.1 155.3h0M96 150.9h0M149.6 94.3h0M141.5 81.8h0M89.6 104.8h0M106 153h0M108.9 91.2h0M154.6 174h0M185.9 142.7h0M189.3 83.4h0M129.5 69.1h0M99.8 86.5h0M164.5 165.1h0M165.6 135.2h0M135.9 53.2h0M168.9 162.6h0M165.5 163.2h0M126.8 177.9h0M185 150.2h0M184.8 157h0M180.4 92.9h0M164.9 109.5h0M113.5 158.2h0M128.4 86.1h0M166 95.7h0M172.6 175.5h0M171.6 98.2h0M116.6 157.5h0M92.2 112.4h0M154.7 139.6h0M137.2 104.9h0M85.2 133.2h0M112.6 91.8h0M89.7 120.7h0M174.8 156.6h0M96 152.6h0M128.6 48h0M105.8 89.8h0M113.1 140.2h0M166.2 66.9h0M119.6 169.4h0M155 45.8h0M191.4 157.1h0M107.9 91.3h0M181.7 69.1h0M111.4 67.3h0M200.4 133.3h0M152.1 97.1h0M120.5 176.6h0M102.4 79.8h0M155.8 130h0M159.3 73.5h0M129.8 162.1h0M140.2 87.5h0M177 161h0M185.2 76.8h0M121.4 162.5h0M135.4 177.7h0M91 154.6h0M151.1 35.2h0M103.4 160.9h0M100 87.6h0M114.9 111h0M94.1 162.4h0M140.5 79.3h0M146.4 149.5h0M106.5 107.8h0M154.8 171.1h0M201.3 131.2h0M138.8 56.6h0M175.1 95.1h0M138.1 52.6h0M103.9 151.1h0M117 145.9h0M167.1 150.2h0M105 136.1h0M132.8 108.4h0M96.7 67.5h0M77.6 116.3h0M125.8 59.3h0M147 102h0M97.7 123.3h0M129.6 60.8h0M158 134.4h0M125.2 97.1h0M143.9 108.3h0M109.1 152.7h0M144.1 91.1h0M176.8 44h0M121.5 65.9h0M151.6 33.3h0M194.2 100.4h0M181 165.1h0M129.9 134.1h0M109.8 123.8h0M96 146.3h0M100.1 155.4h0M152.1 133.6h0M134.1 43.2h0M149.3 133h0M151 177h0M139.7 122.7h0M138.1 132.5h0M97.2 94.6h0M139.3 182h0M136.7 140.7h0M82.2 122h0M103 72.3h0M172.9 71.8h0M97.2 70.8h0M179 88.6h0M167.9 153.1h0M167.4 87.7h0M148.3 166.4h0M175.7 54.8h0M158.7 75.9h0M89.6 103.3h0M136.2 173.8h0M104.8 150.7h0M143.3 50.1h0M111.9 117.2h0M190.4 133.1h0M127 93.2h0M138.9 100.2h0M134.3 81.5h0M154.8 167.2h0M158.4 63.6h0M78.1 115.8h0M182.1 86.7h0M139.5 106.7h0M139.3 109.1h0M162.9 44.6h0M112.5 163.4h0M89.5 156.7h0M108.4 71.3h0M79.9 135.9h0M133.2 51.1h0M175.4 105.2h0M199.5 147.5h0M106.7 72.3h0M135.1 38.8h0M141.5 44.8h0M84.7 152.2h0M198.3 98.2h0M190 79.3h0M92.7 85.5h0M159.4 183h0M155.5 62.8h0M119.2 54.9h0M93.1 112.7h0M154.2 104h0M141.9 136.5h0M181.7 159.6h0M138.8 166.5h0M98.8 125.5h0M106.9 108.5h0M80.1 133.5h0M152.2 70.6h0M166.8 132.4h0M187.9 109.4h0M130.1 131.2h0M172.2 57.8h0M118.4 135.3h0M132.1 182.9h0M190.2 130.9h0M147.3 135.2h0M105.5 154.3h0M181.3 105.7h0M169 154.9h0M106.3 57.2h0M185.9 74.2h0M191.1 123.4h0M107.2 91.8h0M137.7 146.6h0M141.7 145.5h0M108 171.9h0M103.7 153.4h0M99.3 161.7h0M123.6 68.4h0M106.4 69.2h0M86 105.4h0M160.9 127.7h0M202.6 137.6h0M194.6 117h0M149.5 76.4h0M193.9 118h0M120.9 170h0M121.5 176.3h0M193.5 101h0M174.1 168.1h0M164.4 63.6h0M172.4 148h0M115 117h0M201.2 108.6h0M89 132.8h0M175.3 104.5h0M191.5 60.9h0M94.1 143.5h0M165.6 133.4h0M158.1 85.9h0M104.9 139.5h0M183.2 101.1h0M133.6 167h0M155.3 148h0M152.9 31.9h0M96.1 77.3h0M100.4 137.7h0M195.1 109.6h0M97.4 149.6h0M159.6 150.7h0M151 136.8h0M167 69.7h0M181.9 117.5h0M139 129h0M98.7 95.4h0M132.7 63.1h0M196.5 103h0M86.5 91.4h0M202.8 134.4h0M109.6 124.6h0M177.7 135.9h0M192.1 136.9h0M159.2 80.5h0M137.6 86h0M191.1 108.7h0M155.7 125.4h0M163.9 67.3h0M124.4 172.7h0M164.1 144.2h0M78.6 104.3h0M121.9 153h0M124.6 107.8h0M98 169.7h0M196.8 144.6h0M108.9 77.1h0M115.5 115.5h0M120 116.1h0M99.6 150.5h0M132.2 56.2h0M135.9 132.8h0M171.8 109.2h0M130.4 87.4h0M88 123.6h0M136.6 45.7h0M99.5 152.8h0M177.1 169.8h0M178.9 57.5h0M178.3 84.6h0M94.5 73.3h0M94.3 76.6h0M150.1 31.4h0M137.4 152.5h0M80 125.2h0M178.7 155.4h0M176.6 128.8h0M92.7 105.4h0M144.2 53.5h0M166.7 170.1h0M119.8 84.2h0M182.4 72.2h0M170.8 83.4h0M149.7 167h0M130 122.3h0M190.5 146.1h0M146.9 122.2h0M159.3 136.8h0M145 167.9h0M150.8 140.7h0M142.7 104.9h0M127.9 132.6h0M156.8 90.9h0M135 162.5h0M141 143.7h0M190.3 72.8h0M88.5 93.4h0M119.7 110.9h0M155.7 86.8h0M99.3 125.4h0M191.1 129h0M135.8 103.4h0M190.1 121.2h0M99 140.1h0M110 159h0M80.2 148.3h0M153.2 42.9h0M109.7 160.5h0M160.3 163.6h0M139.8 160.5h0M186.5 129.6h0M99 149.9h0M202.9 108.1h0M167.6 76.4h0M134.8 161.9h0M130.1 101.5h0M144.9 97.9h0M92.5 140.9h0M119.8 134h0M192.6 147.5h0M188.4 151.6h0M94.3 104.4h0M124.9 179.8h0M127.4 152.2h0M123.6 123h0M174.5 164.2h0M96.8 100.7h0M91.2 123.4h0M121.1 129.5h0M79.8 98.2h0M161 156.7h0M195.5 100.8h0M141.8 108.5h0M182 104.4h0M170 86.4h0M186.9 74.5h0M97.5 150.1h0M188.5 77.7h0M128.8 36.4h0M139.9 75.2h0M197 89.2h0M108.2 129.2h0M106.4 69h0M127.4 141.8h0M84.2 137.1h0M148.5 51h0M128.2 102.6h0M109.9 70.5h0M149.9 73.3h0M103.4 93.7h0M197.2 91.1h0M116.8 104h0M183.9 56h0M141.5 152.2h0M185.7 144.5h0M136.3 143.9h0M157.9 64.9h0M191.3 150.8h0M159.8 98.3h0M168.9 55h0M106.8 174.1h0M160.5 35.8h0M111.6 138.9h0M121.1 105.4h0M107.3 98.8h0M158.9 61.8h0M138.3 185.3h0M176.3 123.8h0M113.4 118.8h0M174.5 93.1h0M149 178.2h0M177 80.8h0M146.6 95.4h0M130.6 76.5h0M160 169.5h0M110.5 176.2h0M116.7 129.3h0M161.7 142.1h0M103.8 147h0M123.3 87.7h0M91.1 96.1h0M170 65.1h0M187.2 98.5h0M162.8 57.6h0M103.8 86h0M98.8 115.2h0M129.3 68.9h0M87.2 94h0M114.1 84.9h0M115.9 166.4h0M150.6 61.8h0M192.3 100h0M82.8 145.4h0M195 109.9h0M187.4 109.5h0M175.2 56.7h0M178 60.4h0M130.6 87.8h0M103.8 75.8h0M154.5 44.9h0M139.5 130.5h0M146.8 66.5h0M166.1 145.5h0M103.7 125.2h0M77.4 123h0M126.2 66.7h0M181.8 134.3h0M125.9 74.3h0M144.3 127.1h0M143.7 160.5h0M198.9 151.4h0M155.5 163.6h0M193.1 89.3h0M149.3 79.6h0M178.6 58.2h0M190 67.7h0M175.1 74.3h0M141.5 70.6h0M172.4 136.3h0M139.2 90.3h0M204.3 108.5h0M168.8 158.1h0M107 88.9h0M155.7 59.6h0M117.7 58.9h0M141.8 65.2h0M143.1 182.2h0M191.7 149.3h0M175.8 166.9h0M132.9 146.6h0M107.8 125h0M150.8 92.6h0M163.9 77.7h0M77 122.6h0M191.2 126.5h0M172.4 39.9h0M184.3 155.4h0M192.4 97.5h0M102.6 141.5h0M115.6 110.3h0M96.8 77.6h0M113.8 65.1h0M122.6 51.7h0M194.1 157.3h0M125.9 64.7h0M203.7 106.9h0M161.5 118.2h0M155.7 85.1h0M103 161.3h0M101.3 87h0M142.7 60.5h0M114.6 63.5h0M123.5 109.6h0M106.5 108.2h0M136.4 184.3h0M156.3 45.7h0M168.7 79.2h0M159.2 61.2h0M81.3 125h0M121.7 81.7h0M119.8 66h0M117.2 59.9h0M166.9 156h0M109.2 173.4h0M102.1 81.2h0M119 86.4h0M137.9 72.9h0M193.4 140.2h0M194.6 134.8h0M94.5 137.4h0M137.7 59.8h0M145.7 149.2h0M154.9 121.5h0M164.8 168.7h0M106.7 120.4h0M163.7 119.9h0M129.3 51.7h0M148 61.1h0M129.2 76.2h0M151.5 88.8h0M150.8 64.1h0M141.7 53h0M141.4 100.7h0M72.7 126.4h0M92.5 119.9h0M100.1 106.9h0M106.9 150.3h0M134.9 122.2h0M151.5 181.6h0M157 118.8h0M109.7 175.6h0M188.5 64.7h0M181.7 78.7h0M176.7 73h0M121.9 79.4h0M150.5 119.5h0M136.5 163h0M163.8 83.5h0M93.1 94.3h0M119.6 73.4h0M167.8 98.8h0M194.5 147.4h0M184 85.9h0M174.3 112h0M174.6 110.1h0M154.2 68.1h0M150.7 51.4h0M150.5 143.6h0M113.7 50.5h0M126 97.9h0M139 169h0M120.6 121.3h0M143.6 94.8h0M183.2 106.1h0M151.4 107.7h0M130 126.3h0M178.6 106.5h0M145.3 100.3h0M170 171.4h0M190.1 86.5h0M130.5 133.1h0M142.8 99h0M172.5 62.9h0M154.6 65.5h0M136.7 136h0M118 60h0M149.9 90h0M167.9 51h0M203.2 123.5h0M120.2 128.1h0M130.6 38.3h0M153.5 166.3h0M112.9 59.3h0M166.6 123.1h0M112.5 129.5h0M180.2 134.9h0M106.5 85.8h0M126.6 104.2h0M137.6 160.2h0M153 144.9h0M160.4 118.1h0M76.9 135h0M111.8 123.6h0M125.5 101.4h0M187.1 93.3h0M155 119.9h0M97.2 124h0M160.5 79.9h0M144.6 111.9h0M146.1 60h0M152 154.6h0M128.3 125.2h0M93.8 81h0M170.6 113h0M173.2 100.6h0M115.2 67.7h0M139.6 35.3h0M152 114.4h0M170.4 58h0M173.4 96.3h0M124.7 38.8h0M165.2 169.4h0M108.8 113.1h0M137.3 156.6h0M108.4 101.9h0M179.8 126.9h0M157.6 145.7h0M187.8 137.9h0M114.3 140.3h0M95.4 70.4h0M103.3 127h0M156.2 144.8h0M155.2 172.7h0M126.4 74.3h0M137.2 119.3h0M146.8 158h0M151.6 168.7h0M118.5 80.8h0M149.1 74.2h0M168.5 173.2h0M133.3 180.9h0M174.9 66.4h0M133.7 150.1h0M144.1 156.3h0M135.9 62.9h0M73.7 124.8h0M113.1 52.1h0M157.2 81.5h0M138.6 109.1h0M121.3 130.6h0M158.5 34.8h0M181.3 171.6h0M157.5 150.3h0M162.8 80.1h0M198.9 151.4h0M171.7 86.4h0M104.2 130.7h0M167.7 44.1h0M166.6 116.4h0M195.1 71.9h0M158.2 55.7h0M80.9 106h0M148.1 104.7h0M189.8 93.7h0M134.9 58h0M120.9 141h0M175 62.5h0M158.7 97h0M192.6 108h0M132.8 69.1h0M159.9 174.7h0M179.9 106.8h0M97.4 100.5h0M173.2 173.3h0M122.7 48.4h0M202.7 137.7h0M187.8 141.9h0M200 108.3h0M161.5 126.7h0M179.9 83.1h0M150 160.8h0M132.5 74.6h0M104.7 152.2h0M136.4 96.8h0M183.4 145h0M167.1 156.6h0M106.5 165.9h0M115.6 85.1h0M147.4 142.3h0M114.1 90.5h0M152.6 124.1h0M101.1 96.2h0M90.8 128h0M133.1 74.7h0M122.9 169h0M179.8 72.8h0M98.4 136.8h0M111.6 99.1h0M111 110.4h0M94.6 89.8h0M199.4 82.8h0M178.1 145.7h0M156.5 174.1h0M182.2 62.3h0M193.8 114.3h0M112.7 143.5h0M119 49.2h0M169.7 131.8h0M164.2 83.1h0M138.6 94.7h0M142.5 62.5h0M194.1 85.1h0M120.1 133.6h0M111.4 119.2h0M150 57.1h0M151.1 68h0M159.4 39.4h0M174.9 83.1h0M132.4 91.4h0M138.7 168.5h0M152.1 40.8h0M134.3 63.6h0M105.8 63.5h0M95.4 165.4h0M171.5 65.4h0M152.1 138.9h0M177.6 162.4h0M142.4 125.1h0M154.7 37.5h0M200.1 132.4h0M186.4 110.9h0M170.1 131.8h0M193.2 72.4h0M181.2 100.3h0M107.8 168.7h0M171.8 147.4h0M118.1 51h0M100.4 147.6h0M184.7 78.4h0M175.4 121.8h0M161.5 74.8h0M161.4 175.9h0M178.5 87.1h0M105.7 82.1h0M111.8 104.4h0M107.5 68.6h0M183.9 141.6h0M86.1 99.4h0M131.7 98h0M118.7 119.2h0M130.4 176.5h0M100.8 125.5h0M168.3 89.4h0M121.7 117h0M122.9 44.6h0M109.3 97.3h0M186 138.9h0M157.6 159h0M186.7 95.8h0M97.4 70h0M79.1 131h0M126.6 150.6h0M166.1 169h0M158.3 54.7h0M164.6 111.2h0M120.2 150.2h0M84.6 121.6h0M160.2 65.8h0M155.5 154.8h0M195.9 146.6h0M142.2 97.4h0M136.8 131.1h0M159.8 68.2h0M169.8 127.2h0M112.8 93.2h0M158.9 143.3h0M98.5 144.7h0M108.4 70.1h0M176.1 146.4h0M114.9 171.4h0M122.1 178.3h0M162.8 175.8h0M131.1 96.5h0M169 126.7h0M167.9 141h0M129.4 80h0M151.9 95.8h0M130.3 73h0M179.1 95.2h0M130.7 67h0M203.3 107.1h0M147.5 120.6h0M161.2 58.4h0M202.7 126.7h0M94.3 133.2h0M75.8 116.1h0M130.5 69.6h0M142.6 47.1h0M131.5 100.2h0M101.9 108.8h0M112.2 165.2h0M155.2 149.8h0M117 59h0M174.3 111.2h0M153 174.4h0M192.9 109.1h0M165.7 67.3h0M141.5 34.3h0M98.5 90.6h0M185 127.1h0M180.3 123.4h0M154.9 158.3h0M178.8 57.7h0M155.5 57.5h0M173.2 80.2h0M109.7 157.6h0M131.7 77.6h0M113.3 113.4h0M163.9 143.3h0M149.3 95.6h0M90.3 117.6h0M142.9 41.4h0M159.6 39.6h0M118.1 81.3h0M123.5 81.5h0M204.1 94.4h0M136.5 60.8h0M154.1 116.4h0M162.4 132.6h0M176.9 79.8h0M111.3 148h0M186.3 115.8h0M164.1 139.6h0M158.6 103.1h0M85.8 98.1h0M139.6 75.8h0M141.4 120.9h0M156.4 105.1h0M172.4 72.4h0M126.9 55.8h0M123.9 156.8h0M166.7 120.1h0M172 75.3h0M136.1 56.5h0M94.6 131h0M122.1 75.8h0M164.6 38.9h0M108.9 158.5h0M151.1 75.8h0M173.6 124.5h0M141 112.5h0M107.7 131.1h0M112.1 155.9h0M105.7 168h0M103.7 123.5h0M172.8 57.6h0M115.1 48.5h0M181.4 94.8h0M92.6 159.7h0M148.2 173.8h0M123.7 107.7h0M190.8 162.5h0M92.3 160.3h0M169.4 59.1h0M78.8 135.1h0M83.6 138.1h0M85.4 94.1h0M73.1 118.1h0M112.8 82.4h0M94.2 83.3h0M113.9 112h0M183.6 79.6h0M169.3 69h0M171.7 167.1h0M135.3 160h0M107.7 66.5h0M88.5 123.8h0M118.6 100.6h0M114.9 68.1h0M173.5 89.6h0M119.4 154.7h0M183 64.9h0M171.1 113.2h0M86 114.4h0M162.7 147h0M168.5 164.1h0M138.9 83.7h0M159.4 180.5h0M188 69.6h0M152 150.8h0M195.3 130.8h0M129.6 172.1h0M85.8 114.7h0M102.7 133.2h0M196.7 104.4h0M141.7 116.7h0M142.8 120.1h0M85.3 152.5h0M182.9 64h0M166.6 98.3h0M95.8 158.2h0M169 151.3h0M119.1 64h0M149.3 147.3h0M103.8 139.4h0M134.1 117.9h0M104.7 82.1h0M141.3 49.3h0M189.6 91h0M171.5 101.9h0M186.4 150h0M195.9 124.7h0M112.8 88.4h0M100.9 127h0M127.6 136.1h0M109.2 126.2h0M152 78.3h0M99.6 157.4h0M185.3 69.3h0M201 118.1h0M91.3 138h0M108.7 172h0M129 113.1h0M101.8 105.5h0M184.2 136.8h0M108.6 146.6h0M178.6 119.5h0M159.9 145.3h0M160.2 165.7h0M99.2 93.3h0M142.3 117.9h0M189.4 128.9h0M137 162.5h0M123.6 94.2h0M198.2 127.6h0M175.3 93.1h0M166 171.2h0M155.5 89h0M197.3 127.8h0M192.5 149.4h0M137 42.7h0M152.2 85.6h0M180.9 106.1h0M171.9 81.2h0M100.5 90.9h0M112.2 79.9h0M154.3 40.8h0M121.5 141h0M78.6 121.1h0M116.4 58.6h0M129.1 121.1h0M81.1 145.9h0M160 62h0M116.1 158.4h0M159.9 133.6h0M120.6 76.3h0M165.4 105h0M192 133.6h0M153.7 109.5h0M176.9 175.5h0M196.9 113h0M152.3 109.8h0M160.9 102.8h0M183 117.8h0M97.4 159.8h0M167.4 167.6h0M144.2 66.8h0M75.7 127h0M185.7 60.4h0M111 95.3h0M152.3 110.4h0M177 55.4h0M81.2 121h0M131.5 154h0M98.8 163h0M189.1 128.2h0M149.1 109h0M135.1 144h0M180 121.2h0M189.7 125.4h0M74.6 129.4h0M175.9 145.9h0M77.8 129.9h0M110.3 72.7h0M201.3 90.2h0M130.2 56.1h0M176.6 157.1h0M149.9 110.7h0M169.6 45.2h0M159.4 162.6h0M123.2 175.2h0"/></g><g id="lab" font-size="6.7"><text x="105" y="27">Adamts13</text><text x="97.2" y="67.7">F3</text><text x="111.3" y="67.7">F9</text><text x="123.5" y="67.7">F11</text><text x="103" y="72.3">Mmp2</text><text x="106.2" y="78.7">F8</text><text x="114.8" y="78.7">P2rx1F12</text><text x="73" y="86.2">Serpine1</text><text x="147.2" y="70.6">Bdkrb2</text><text x="161.1" y="64.2">P2ry12</text><text x="161.1" y="76.9">P2ry1</text><text x="153.3" y="80.4">F2</text><text x="161.1" y="84.8">F2rl3</text><text x="151" y="90.2">Gnaq</text><text x="167.1" y="91">Gna13</text><text x="121.7" y="94.2">Rasgrp2</text><text x="97.2" y="101.5">Pdia3</text><text x="121.4" y="101.5">Vwf</text><text x="104" y="109.6">Gp1ba</text><text x="123.5" y="109.6">Itgb3</text><text x="133.6" y="105">Gp1bb</text><text x="159" y="102.2">Plcg2</text><text x="150.4" y="109.4">Gp6</text><text x="161.3" y="114.8">Fcer1g</text><text x="128" y="116.5">Prkca</text><text x="148" y="118.7">Pik3cb</text><text x="129.2" y="123.5">Lep</text><text x="164.8" y="125.2">Rac1</text><text x="119.4" y="128.1">Tln1</text><text x="137.3" y="131.9">Pdpk1</text><text x="157.3" y="131.9">Lcp2</text><text x="118.8" y="136.7">Stim1</text><text x="131" y="143.6">Orai1</text><text x="50" y="123.8">Pld1</text><text x="71" y="121">Ano6</text><text x="77" y="127.5">Fermt3</text><text x="205" y="167.8">Kcnip3</text></g><g id="red"><circle cx="90.2" cy="25.4" r="1.7"/><circle cx="91.3" cy="32.6" r="1.7"/><circle cx="114.2" cy="49" r="2.9"/><circle cx="123.1" cy="57" r="3.5"/><circle cx="106.4" cy="61.9" r="2.9"/><circle cx="26.9" cy="87.1" r="2.1"/><circle cx="55.7" cy="94.3" r="2.9"/><circle cx="66.8" cy="94.3" r="2.9"/><circle cx="41.1" cy="100.3" r="2.3"/><circle cx="62" cy="99" r="2.3"/><circle cx="89.4" cy="100.3" r="2.9"/><circle cx="102.3" cy="91.6" r="2.9"/><circle cx="115.4" cy="83.6" r="3.5"/><circle cx="105.4" cy="99.2" r="3.5"/><circle cx="68" cy="104.3" r="2.1"/><circle cx="84" cy="114" r="1.7"/><circle cx="132.2" cy="84.3" r="2.9"/><circle cx="124.6" cy="98" r="3.5"/><circle cx="123.1" cy="29.7" r="1.7"/><circle cx="203" cy="21.6" r="3.2"/><circle cx="185.2" cy="25.2" r="2.1"/><circle cx="171.7" cy="62.2" r="4"/><circle cx="166" cy="70.6" r="4"/><circle cx="140.5" cy="72.6" r="2.9"/><circle cx="169.1" cy="79.9" r="2.3"/><circle cx="176" cy="88" r="2.9"/><circle cx="166" cy="99.6" r="3.5"/><circle cx="171.3" cy="105.2" r="2.9"/><circle cx="179.2" cy="111.4" r="3.5"/><circle cx="223.2" cy="101" r="3.2"/><circle cx="149.9" cy="111" r="2.3"/><circle cx="127.9" cy="99" r="2.3"/><circle cx="135.4" cy="106.2" r="2.3"/><circle cx="27.6" cy="120.1" r="2.9"/><circle cx="45.9" cy="115.3" r="1.7"/><circle cx="79.5" cy="117.2" r="4"/><circle cx="101.2" cy="111.6" r="2.3"/><circle cx="103.8" cy="117.2" r="2.3"/><circle cx="96.9" cy="120.1" r="1.7"/><circle cx="120.8" cy="116.1" r="3.5"/><circle cx="114.8" cy="123.8" r="2.3"/><circle cx="132.4" cy="128.2" r="2.9"/><circle cx="77.7" cy="139.2" r="1.7"/><circle cx="84.4" cy="138" r="1.7"/><circle cx="93.3" cy="132.5" r="1.7"/><circle cx="95.7" cy="148.1" r="1.7"/><circle cx="105.4" cy="150.5" r="2.1"/><circle cx="113" cy="155.3" r="3.5"/><circle cx="125.3" cy="143.5" r="3.5"/><circle cx="132" cy="150.1" r="2.9"/><circle cx="98.6" cy="162.9" r="2.1"/><circle cx="59.6" cy="171.5" r="3.2"/><circle cx="119.7" cy="175.5" r="2.3"/><circle cx="124.5" cy="179.2" r="2.3"/><circle cx="104.1" cy="181.1" r="2.9"/><circle cx="64.9" cy="190.6" r="2.1"/><circle cx="103.4" cy="196.6" r="2.9"/><circle cx="79.6" cy="212.3" r="3.5"/><circle cx="132.4" cy="170.7" r="1.7"/><circle cx="172.2" cy="112.2" r="2.9"/><circle cx="158.2" cy="117" r="3.5"/><circle cx="176.3" cy="122.9" r="2.9"/><circle cx="165.9" cy="131.5" r="2.9"/><circle cx="153.2" cy="127.6" r="2.3"/><circle cx="146.3" cy="136.7" r="2.9"/><circle cx="174.9" cy="135.5" r="2.3"/><circle cx="193.2" cy="138.5" r="2.3"/><circle cx="222" cy="143.8" r="2.3"/><circle cx="243.2" cy="133.3" r="1.7"/><circle cx="245.6" cy="151.6" r="1.7"/><circle cx="247.3" cy="175" r="1.7"/><circle cx="214.8" cy="164.8" r="2.9"/><circle cx="201.5" cy="207.1" r="3.2"/><circle cx="143.3" cy="222.2" r="3.2"/><circle cx="137.8" cy="139.7" r="2.9"/><circle cx="134.2" cy="129" r="2.3"/><circle cx="147.4" cy="184.6" r="1.7"/><circle cx="139" cy="162.9" r="1.7"/><circle cx="172.7" cy="108.6" r="2.3"/><circle cx="114.1" cy="67.4" r="3.5"/><circle cx="108.3" cy="76.5" r="3.5"/><circle cx="119.1" cy="82.3" r="2.3"/><circle cx="137.3" cy="69.9" r="2.3"/><circle cx="105.8" cy="93.9" r="2.9"/><circle cx="123.2" cy="93" r="2.9"/><circle cx="134.1" cy="91.4" r="3.5"/><circle cx="125.7" cy="99.6" r="2.9"/><circle cx="139" cy="100.7" r="2.3"/><circle cx="164.9" cy="65.8" r="2.3"/><circle cx="158.2" cy="72.4" r="2.3"/><circle cx="165.7" cy="81.5" r="2.3"/><circle cx="167.4" cy="88.9" r="2.3"/><circle cx="159" cy="93.9" r="2.3"/><circle cx="118.3" cy="107.2" r="2.3"/><circle cx="143.2" cy="105.4" r="2.3"/><circle cx="113.9" cy="107.6" r="2.9"/><circle cx="128.9" cy="106.8" r="3.5"/><circle cx="169.7" cy="111.8" r="4"/><circle cx="148" cy="116.7" r="2.9"/><circle cx="155.5" cy="115" r="2.3"/><circle cx="124.7" cy="122.5" r="2.9"/><circle cx="141.4" cy="141.5" r="2.3"/><circle cx="173.1" cy="122.5" r="3.5"/><circle cx="88.5" cy="122.5" r="3.5"/></g><g id="blue"><circle cx="121" cy="25" r="3.5"/><circle cx="99" cy="31.6" r="2.1"/><circle cx="119.7" cy="34.5" r="2.9"/><circle cx="120.8" cy="48.6" r="2.3"/><circle cx="134" cy="44.2" r="2.9"/><circle cx="61.5" cy="66.1" r="2.9"/><circle cx="94.1" cy="75" r="2.9"/><circle cx="84.4" cy="78" r="2.9"/><circle cx="102.1" cy="82.7" r="2.9"/><circle cx="99" cy="71.8" r="1.7"/><circle cx="126.3" cy="69" r="3.5"/><circle cx="124.5" cy="82.3" r="2.9"/><circle cx="76.9" cy="104.3" r="1.7"/><circle cx="60.7" cy="107.6" r="2.3"/><circle cx="88.7" cy="108.1" r="3.5"/><circle cx="111.2" cy="92.8" r="2.3"/><circle cx="118.1" cy="112.3" r="2.3"/><circle cx="176.3" cy="52.1" r="3.5"/><circle cx="172.1" cy="56.3" r="1.7"/><circle cx="201.1" cy="64.4" r="2.3"/><circle cx="183.5" cy="74.7" r="2.3"/><circle cx="167.9" cy="71.6" r="4"/><circle cx="153.7" cy="77.9" r="3.5"/><circle cx="163.1" cy="79.1" r="2.3"/><circle cx="138" cy="68.3" r="3.5"/><circle cx="141.5" cy="67.4" r="2.9"/><circle cx="130.6" cy="64.4" r="2.9"/><circle cx="207.6" cy="83.6" r="1.7"/><circle cx="206.4" cy="88.3" r="2.3"/><circle cx="155.7" cy="106.1" r="4"/><circle cx="159.7" cy="101.8" r="2.3"/><circle cx="197" cy="109.8" r="2.3"/><circle cx="191.9" cy="113.6" r="2.3"/><circle cx="234.7" cy="113.1" r="2.3"/><circle cx="151" cy="113.4" r="2.3"/><circle cx="131.8" cy="113.4" r="2.3"/><circle cx="98.1" cy="115.3" r="1.7"/><circle cx="90.9" cy="124.2" r="3.5"/><circle cx="87.3" cy="126.6" r="2.3"/><circle cx="66.3" cy="129.6" r="1.7"/><circle cx="104.4" cy="127.6" r="3.5"/><circle cx="100.9" cy="135.9" r="3.5"/><circle cx="112.4" cy="136.9" r="2.9"/><circle cx="50.7" cy="144" r="1.7"/><circle cx="59.1" cy="146.8" r="1.7"/><circle cx="71.6" cy="156.9" r="2.1"/><circle cx="101.7" cy="159.3" r="3.5"/><circle cx="106.5" cy="155.3" r="1.7"/><circle cx="116.2" cy="161.2" r="1.7"/><circle cx="124.5" cy="157.6" r="3.5"/><circle cx="116.8" cy="151.1" r="2.9"/><circle cx="129.7" cy="149.2" r="2.3"/><circle cx="134.8" cy="163.6" r="2.3"/><circle cx="50.4" cy="183.9" r="2.3"/><circle cx="109" cy="194.2" r="2.1"/><circle cx="124.5" cy="119.4" r="2.3"/><circle cx="179.2" cy="115.4" r="3.5"/><circle cx="180" cy="129" r="2.9"/><circle cx="171" cy="119.4" r="2.3"/><circle cx="155.2" cy="123.3" r="3.5"/><circle cx="138.4" cy="125.8" r="3.5"/><circle cx="134.2" cy="117" r="2.3"/><circle cx="143.3" cy="108.6" r="2.9"/><circle cx="151" cy="111" r="2.3"/><circle cx="158.1" cy="131.5" r="2.9"/><circle cx="170.3" cy="130.1" r="2.3"/><circle cx="182.8" cy="144" r="2.3"/><circle cx="242" cy="120.1" r="3.5"/><circle cx="231.2" cy="134.4" r="2.9"/><circle cx="238.4" cy="185.1" r="2.1"/><circle cx="158.2" cy="152.9" r="2.3"/><circle cx="153.4" cy="154" r="2.9"/><circle cx="151" cy="163.6" r="2.3"/><circle cx="165.4" cy="170.7" r="2.3"/><circle cx="128.2" cy="117" r="2.3"/><circle cx="128.2" cy="64.1" r="4"/><circle cx="133.2" cy="69.9" r="2.3"/><circle cx="137.3" cy="72.4" r="2.9"/><circle cx="134.9" cy="79" r="2.9"/><circle cx="123.2" cy="77.3" r="2.3"/><circle cx="98.3" cy="65.8" r="2.3"/><circle cx="100.8" cy="78.2" r="2.3"/><circle cx="170.6" cy="68.3" r="2.3"/><circle cx="159.9" cy="82.3" r="2.3"/><circle cx="119.9" cy="90.5" r="1.7"/><circle cx="144.1" cy="88.9" r="1.7"/><circle cx="128.2" cy="100.5" r="2.3"/><circle cx="136.4" cy="118.4" r="3.5"/><circle cx="132.2" cy="123.3" r="2.9"/><circle cx="141.4" cy="129.1" r="2.9"/><circle cx="161.3" cy="119.1" r="2.9"/><circle cx="167.2" cy="119.1" r="2.9"/><circle cx="124.7" cy="138.1" r="2.3"/><circle cx="120.6" cy="133.3" r="2.3"/><circle cx="129.7" cy="137.4" r="2.3"/><circle cx="136.4" cy="139.9" r="2.3"/><circle cx="125.5" cy="146.5" r="2.3"/><circle cx="128" cy="150.6" r="2.1"/><circle cx="137.2" cy="151.4" r="2.3"/><circle cx="184.7" cy="136.5" r="2.3"/><circle cx="143" cy="138.1" r="2.1"/><circle cx="118.1" cy="141.5" r="2.1"/><circle cx="56.2" cy="119.1" r="3.2"/></g><g id="grn"><circle cx="95.4" cy="46.6" r="1.5"/><circle cx="107.1" cy="46.9" r="1.5"/><circle cx="121" cy="47.8" r="2.5"/><circle cx="134.3" cy="43.8" r="2.5"/><circle cx="124.8" cy="40.9" r="1.5"/><circle cx="130.8" cy="51.2" r="1.5"/><circle cx="114.4" cy="66" r="3.5"/><circle cx="126.5" cy="65.1" r="3.5"/><circle cx="125.7" cy="69.4" r="3"/><circle cx="120.5" cy="70.3" r="2"/><circle cx="141.2" cy="67.3" r="3"/><circle cx="109.2" cy="76.3" r="3.5"/><circle cx="136.9" cy="78.1" r="2.5"/><circle cx="155.9" cy="77.2" r="3.5"/><circle cx="169.8" cy="60.8" r="3.5"/><circle cx="165.4" cy="74.6" r="2"/><circle cx="86.7" cy="84.1" r="2.5"/><circle cx="105.8" cy="93.6" r="2.5"/><circle cx="119.6" cy="91" r="2"/><circle cx="135.2" cy="91.9" r="3.5"/><circle cx="126.5" cy="98.8" r="3.5"/><circle cx="143" cy="102.3" r="2.5"/><circle cx="113.5" cy="105.7" r="2.5"/><circle cx="129.1" cy="106.6" r="3.5"/><circle cx="155.9" cy="106.6" r="3.5"/><circle cx="101.4" cy="111.8" r="1.5"/><circle cx="58.8" cy="118" r="1.5"/><circle cx="82.5" cy="123.8" r="3"/><circle cx="95" cy="148.2" r="2"/><circle cx="116.2" cy="161.2" r="2"/><circle cx="125" cy="180" r="2.5"/><circle cx="65" cy="191.2" r="2"/><circle cx="126.2" cy="135" r="3"/><circle cx="135" cy="138.8" r="3.5"/><circle cx="222.5" cy="144.2" r="2.5"/><circle cx="235" cy="113.8" r="2"/><circle cx="133" cy="171.2" r="2"/><circle cx="147.5" cy="185" r="2"/><circle cx="160" cy="188.8" r="1.5"/><circle cx="136" cy="44.2" r="2"/><circle cx="63.8" cy="191.3" r="2"/><circle cx="125.4" cy="180.3" r="2"/><circle cx="147" cy="185" r="2"/></g><g id="org"><circle cx="91.6" cy="51.8" r="1.1"/><circle cx="92.8" cy="64.2" r="1.1"/><circle cx="153.3" cy="81.5" r="1.1"/><circle cx="105.4" cy="106.3" r="1.1"/><circle cx="171.5" cy="103.7" r="1.1"/><circle cx="83.8" cy="93.8" r="1.1"/><circle cx="54.5" cy="103.8" r="1.1"/><circle cx="73.8" cy="111.8" r="1.1"/><circle cx="113.8" cy="142.5" r="1.1"/><circle cx="111.2" cy="168" r="1.1"/><circle cx="112" cy="173.8" r="1.1"/><circle cx="191.2" cy="128.2" r="1.1"/><circle cx="187.5" cy="133.8" r="1.1"/><circle cx="212.5" cy="162.5" r="1.1"/><circle cx="155" cy="125" r="1.1"/><circle cx="131.2" cy="225.5" r="1.1"/><circle cx="145" cy="227.5" r="1.1"/><circle cx="173.8" cy="106.2" r="1.1"/></g><g id="pur"><circle cx="163.5" cy="56" r="1.5"/><circle cx="162.3" cy="71.5" r="2"/><circle cx="167.3" cy="97.8" r="3"/><circle cx="172.3" cy="104" r="2"/><circle cx="172.3" cy="121.5" r="3.5"/><circle cx="169.8" cy="119" r="2"/><circle cx="139.8" cy="125.2" r="3"/><circle cx="143.5" cy="127.8" r="2"/><circle cx="138.5" cy="98.5" r="2"/><circle cx="124.8" cy="80.2" r="1.5"/><circle cx="119.8" cy="90.2" r="1.5"/><circle cx="178.5" cy="79" r="1.5"/><circle cx="185.5" cy="102.8" r="1.5"/><circle cx="108.5" cy="129" r="1.5"/><circle cx="101" cy="139" r="1.5"/><circle cx="105.5" cy="150.2" r="2"/><circle cx="126.5" cy="145.2" r="1.5"/><circle cx="163" cy="139" r="1.5"/><circle cx="169.8" cy="140.2" r="1.5"/><circle cx="183.5" cy="147.8" r="1.5"/><circle cx="194.8" cy="137.8" r="1.5"/><circle cx="87.2" cy="108.5" r="1.5"/><circle cx="88.5" cy="130.2" r="1.5"/><circle cx="186" cy="51.5" r="1.5"/><circle cx="139.8" cy="154" r="1.5"/><circle cx="132.2" cy="104" r="1.5"/></g></defs>
<rect x="0" y="0" width="520" height="602" fill="#fff"/>
<g filter="url(#bl)"><g transform="translate(-11.9,-1.1) scale(1.039,1.046)"><use href="#net"/><use href="#red" fill="#b04e55" fill-opacity=".64" stroke="#9a3a44" stroke-opacity=".45" stroke-width=".5"/><use href="#blue" fill="#4a4ac8" fill-opacity=".62" stroke="#3a3aa8" stroke-opacity=".45" stroke-width=".5"/></g><g transform="translate(260,0)"><use href="#net"/><use href="#red" fill="#b0b0b0" fill-opacity=".85"/><use href="#blue" fill="#b0b0b0" fill-opacity=".85"/><use href="#grn" fill="#86c266" fill-opacity=".75"/><use href="#org" fill="#f0962a" fill-opacity=".85"/></g><g transform="translate(-8.5,296)"><use href="#net"/><use href="#red" fill="#b0b0b0" fill-opacity=".85"/><use href="#blue" fill="#b0b0b0" fill-opacity=".85"/><use href="#grn" fill="#86c266" fill-opacity=".75"/><use href="#org" fill="#f0962a" fill-opacity=".85"/><use href="#pur" fill="#7048cc" fill-opacity=".8"/></g><g transform="translate(259.8,292.6) scale(1.016,1.028)"><use href="#net"/></g>
<g fill="#b04e55" fill-opacity=".64" stroke="#9a3a44" stroke-opacity=".45" stroke-width=".5"><circle cx="350.8" cy="318.8" r="1.8"/><circle cx="352.4" cy="326.9" r="1.8"/><circle cx="384.2" cy="323.2" r="1.8"/><circle cx="375.2" cy="343.1" r="2.5"/><circle cx="384.4" cy="351.1" r="3"/><circle cx="367.4" cy="356.2" r="3"/><circle cx="375.4" cy="360.2" r="3.5"/><circle cx="372.2" cy="364.4" r="3"/><circle cx="370.1" cy="371" r="4"/><circle cx="377.1" cy="377.6" r="3"/><circle cx="383.8" cy="380" r="2.5"/><circle cx="363.3" cy="385.4" r="2.5"/><circle cx="366.1" cy="392.9" r="4"/><circle cx="385.3" cy="392.5" r="3.5"/><circle cx="374" cy="401.4" r="3.5"/><circle cx="351" cy="396.1" r="2.5"/><circle cx="327.4" cy="388.9" r="2.5"/><circle cx="324.4" cy="393.1" r="2.8"/><circle cx="316.4" cy="388.9" r="2.5"/><circle cx="301.2" cy="395.8" r="2"/><circle cx="287" cy="382" r="1.8"/><circle cx="328.8" cy="399.5" r="1.5"/><circle cx="305.8" cy="410.8" r="1.8"/><circle cx="287" cy="415.5" r="1.8"/><circle cx="340.2" cy="414.8" r="3.5"/><circle cx="345.1" cy="409.4" r="1.8"/><circle cx="362.5" cy="407.1" r="2"/><circle cx="385" cy="410" r="3"/><circle cx="465.8" cy="315" r="2.8"/><circle cx="448" cy="318.8" r="1.8"/><circle cx="420" cy="362.5" r="3"/><circle cx="431.2" cy="363.8" r="2.5"/><circle cx="426.2" cy="366.2" r="2.5"/><circle cx="415" cy="368.8" r="2"/><circle cx="431.2" cy="375" r="3.5"/><circle cx="425" cy="378.8" r="2.5"/><circle cx="420.6" cy="382.6" r="3"/><circle cx="435" cy="382.5" r="2"/><circle cx="396.7" cy="387.6" r="4"/><circle cx="403.8" cy="395" r="3"/><circle cx="428.8" cy="395" r="3.5"/><circle cx="432.5" cy="407.5" r="4"/><circle cx="442.5" cy="407.5" r="2.5"/><circle cx="418.3" cy="413.9" r="3.5"/><circle cx="391.6" cy="402.5" r="3.5"/><circle cx="486.8" cy="395.8" r="2.8"/><circle cx="406.2" cy="380" r="2"/><circle cx="411.2" cy="375" r="2"/><circle cx="319.2" cy="413.8" r="1.5"/><circle cx="354.5" cy="428.8" r="2"/><circle cx="345.1" cy="434.8" r="1.5"/><circle cx="338" cy="435" r="1.5"/><circle cx="356.3" cy="443.9" r="1.5"/><circle cx="366.1" cy="446.8" r="1.5"/><circle cx="374.2" cy="450.7" r="2.5"/><circle cx="387.3" cy="430.1" r="3"/><circle cx="360" cy="460" r="1.5"/><circle cx="320" cy="468.8" r="2.8"/><circle cx="325.5" cy="488.2" r="1.5"/><circle cx="365" cy="477.5" r="2"/><circle cx="364.5" cy="493.8" r="2.5"/><circle cx="380.6" cy="472.5" r="2"/><circle cx="386.2" cy="476.2" r="2"/><circle cx="340" cy="510.5" r="2.8"/><circle cx="385.6" cy="440" r="3"/><circle cx="377.5" cy="448.8" r="1.5"/><circle cx="407.5" cy="426" r="3"/><circle cx="392.5" cy="423.8" r="2.5"/><circle cx="388.8" cy="430" r="3"/><circle cx="398.8" cy="433.8" r="2.5"/><circle cx="409" cy="433.3" r="2.5"/><circle cx="427.5" cy="427.5" r="2.5"/><circle cx="436.2" cy="420" r="2.5"/><circle cx="437.5" cy="431.2" r="2"/><circle cx="455" cy="435" r="2"/><circle cx="485" cy="440.5" r="2"/><circle cx="506.2" cy="429.5" r="1.8"/><circle cx="508.8" cy="447.5" r="1.5"/><circle cx="477.5" cy="461.8" r="3"/><circle cx="393.8" cy="446.2" r="2.5"/><circle cx="382.5" cy="451.2" r="2.5"/><circle cx="395" cy="467.5" r="1.5"/><circle cx="408.8" cy="481.8" r="1.5"/><circle cx="465" cy="504.5" r="2.8"/><circle cx="405" cy="520" r="2.8"/><circle cx="416.8" cy="421" r="3"/><circle cx="393.6" cy="386.1" r="3"/><circle cx="400.6" cy="395.6" r="2"/><circle cx="346.1" cy="420.7" r="2.5"/><circle cx="356.4" cy="411.1" r="2"/><circle cx="386.7" cy="421.5" r="3"/><circle cx="397.1" cy="414.6" r="2"/><circle cx="376.3" cy="433.6" r="1.5"/><circle cx="379.8" cy="443.1" r="2"/><circle cx="398" cy="437.1" r="3"/><circle cx="391.9" cy="444.9" r="2.5"/><circle cx="423" cy="395.6" r="2"/><circle cx="380.1" cy="362.2" r="2.5"/><circle cx="380.9" cy="376.9" r="2.5"/><circle cx="367.1" cy="388.1" r="3"/><circle cx="386.1" cy="386.4" r="2.5"/></g><g fill="#4a4ac8" fill-opacity=".62" stroke="#3a3aa8" stroke-opacity=".45" stroke-width=".5"><circle cx="381.8" cy="318.2" r="3.5"/><circle cx="381.3" cy="328.2" r="2.5"/><circle cx="360.1" cy="325.7" r="1.8"/><circle cx="382.4" cy="342.4" r="2"/><circle cx="361.9" cy="360.2" r="3.5"/><circle cx="322.1" cy="360.9" r="2.5"/><circle cx="387.2" cy="359.4" r="3.5"/><circle cx="384.1" cy="371" r="3.5"/><circle cx="353.9" cy="370" r="3"/><circle cx="345.2" cy="372.9" r="2.5"/><circle cx="347.8" cy="379.1" r="3"/><circle cx="362.6" cy="377.2" r="2.5"/><circle cx="360.1" cy="366.2" r="1.5"/><circle cx="355" cy="375.1" r="1.5"/><circle cx="366" cy="392" r="3"/><circle cx="372.3" cy="387.9" r="1.5"/><circle cx="350.2" cy="402.9" r="3"/><circle cx="321.2" cy="403.2" r="1.5"/><circle cx="337.5" cy="400" r="1.5"/><circle cx="316.2" cy="417.5" r="3"/><circle cx="382.1" cy="417.5" r="2.5"/><circle cx="395.3" cy="338" r="2"/><circle cx="438.8" cy="346.2" r="3"/><circle cx="434.5" cy="351.2" r="1.5"/><circle cx="430" cy="367.5" r="3"/><circle cx="422.5" cy="370" r="2.5"/><circle cx="401.2" cy="370" r="2.5"/><circle cx="396.2" cy="362.5" r="3"/><circle cx="391.2" cy="360" r="2.5"/><circle cx="392.5" cy="375" r="2"/><circle cx="412.5" cy="372.5" r="2"/><circle cx="420" cy="375" r="2"/><circle cx="469.5" cy="382.5" r="2"/><circle cx="417.2" cy="402.5" r="3.5"/><circle cx="425" cy="398.8" r="2"/><circle cx="421.3" cy="396.3" r="2"/><circle cx="430" cy="414.4" r="3"/><circle cx="460" cy="405" r="2"/><circle cx="498.2" cy="408.8" r="1.8"/><circle cx="505.2" cy="415.9" r="3"/><circle cx="408.8" cy="408.8" r="3"/><circle cx="405" cy="413.8" r="2.5"/><circle cx="392.8" cy="415.2" r="2.5"/><circle cx="438.8" cy="415" r="2"/><circle cx="326.2" cy="425.5" r="1.5"/><circle cx="346.2" cy="420.5" r="2"/><circle cx="351.1" cy="423.5" r="2.5"/><circle cx="351.2" cy="416.2" r="1.5"/><circle cx="365.1" cy="423.5" r="2.5"/><circle cx="362.5" cy="433.8" r="2.5"/><circle cx="373.7" cy="433.7" r="3"/><circle cx="375.9" cy="424.6" r="2"/><circle cx="311.2" cy="440.5" r="1.5"/><circle cx="319.5" cy="443.2" r="1.5"/><circle cx="332.5" cy="454" r="1.5"/><circle cx="363.2" cy="456.2" r="3"/><circle cx="382.5" cy="447.5" r="2"/><circle cx="386.2" cy="453.8" r="2.5"/><circle cx="378.2" cy="457.5" r="1.5"/><circle cx="311.2" cy="481.2" r="2"/><circle cx="370" cy="491.2" r="1.5"/><circle cx="386.5" cy="434.8" r="2.5"/><circle cx="494.5" cy="430.8" r="2"/><circle cx="501.8" cy="482.5" r="1.8"/><circle cx="442.5" cy="423.8" r="2.5"/><circle cx="433.8" cy="425" r="2"/><circle cx="445" cy="440.5" r="2"/><circle cx="421.3" cy="450.3" r="2.5"/><circle cx="413.2" cy="461.2" r="2"/><circle cx="428.8" cy="468" r="2"/><circle cx="397" cy="461.2" r="1.5"/><circle cx="386.2" cy="447.5" r="3"/><circle cx="392.5" cy="442.5" r="2.5"/><circle cx="398.8" cy="421.4" r="3"/><circle cx="402.5" cy="416.2" r="2"/><circle cx="406.2" cy="411.2" r="2.5"/><circle cx="421.2" cy="420" r="2"/><circle cx="400" cy="437.5" r="2"/><circle cx="381.1" cy="386" r="1.5"/><circle cx="379.8" cy="407.7" r="1.5"/><circle cx="404.9" cy="404.2" r="2"/><circle cx="395.4" cy="418.9" r="3.5"/><circle cx="347.8" cy="422.4" r="3"/><circle cx="360.8" cy="431.9" r="2.5"/><circle cx="384.1" cy="439.7" r="2"/><circle cx="393.6" cy="444.9" r="2.5"/><circle cx="390.2" cy="444.9" r="2"/><circle cx="396.2" cy="446.6" r="2"/><circle cx="416.1" cy="425.8" r="2.5"/><circle cx="423.9" cy="424.1" r="2.5"/><circle cx="379.8" cy="446.6" r="1.5"/><circle cx="350.4" cy="383.5" r="1.5"/><circle cx="377.2" cy="448.3" r="1.5"/><circle cx="361.6" cy="372.1" r="1.5"/><circle cx="386.1" cy="376" r="1.5"/><circle cx="396.5" cy="390.7" r="2"/></g><g fill="#f2e21e" fill-opacity=".8"><circle cx="424.2" cy="337.7" r="2.7"/><circle cx="443.1" cy="332.8" r="2.7"/><circle cx="393.2" cy="346.9" r="2.7"/><circle cx="413" cy="343.9" r="2.7"/><circle cx="431.3" cy="343.9" r="2.7"/><circle cx="449.3" cy="347.7" r="2.7"/><circle cx="407.1" cy="350.7" r="2.7"/><circle cx="421.3" cy="350.7" r="2.7"/><circle cx="417.8" cy="355.9" r="2.7"/><circle cx="433.4" cy="355.9" r="2.7"/><circle cx="395.8" cy="359.2" r="2.7"/><circle cx="409.4" cy="362.3" r="2.7"/><circle cx="445.2" cy="365.7" r="2.7"/><circle cx="458.8" cy="358.5" r="2.7"/><circle cx="481.3" cy="360.8" r="2.7"/><circle cx="466.7" cy="370" r="2.7"/><circle cx="404.2" cy="368.5" r="2.7"/><circle cx="420.9" cy="373.1" r="2.7"/><circle cx="445.5" cy="373.9" r="2.7"/><circle cx="498.6" cy="375.5" r="2.7"/><circle cx="393.4" cy="380.8" r="2.7"/><circle cx="409.1" cy="385.1" r="2.7"/><circle cx="424" cy="380.5" r="2.7"/><circle cx="437.8" cy="382.3" r="2.7"/><circle cx="455.8" cy="381.7" r="2.7"/><circle cx="428.6" cy="387.9" r="2.7"/><circle cx="393.5" cy="392" r="2.7"/><circle cx="408.7" cy="394.3" r="2.7"/><circle cx="439.9" cy="397" r="2.7"/><circle cx="471.6" cy="386.9" r="2.7"/><circle cx="498.4" cy="391.2" r="2.7"/><circle cx="454.4" cy="392.7" r="2.7"/><circle cx="469.1" cy="398.9" r="2.7"/><circle cx="392.7" cy="399.7" r="2.7"/><circle cx="424.3" cy="399.7" r="2.7"/><circle cx="398.1" cy="406.6" r="2.7"/><circle cx="420.6" cy="406.6" r="2.7"/><circle cx="460.9" cy="408.5" r="2.7"/><circle cx="442.4" cy="411.2" r="2.7"/><circle cx="381.9" cy="411.9" r="2.7"/><circle cx="363.2" cy="412.3" r="2.7"/><circle cx="409.3" cy="413.7" r="2.7"/><circle cx="428.9" cy="415.1" r="2.7"/><circle cx="369.8" cy="438.5" r="2.7"/><circle cx="426.8" cy="433.9" r="2.7"/><circle cx="418.1" cy="440" r="2.7"/><circle cx="437.6" cy="443.9" r="2.7"/><circle cx="411.4" cy="449.2" r="2.7"/></g></g>
<use href="#lab" transform="translate(-11.9,-1.1) scale(1.039,1.046)" fill="#111" stroke="#111" stroke-width=".3"/><use href="#lab" transform="translate(260,0)" fill="#111" stroke="#111" stroke-width=".3"/><use href="#lab" transform="translate(-8.5,296)" fill="#111" stroke="#111" stroke-width=".3"/><g font-size="6.7" fill="#111" stroke="#111" stroke-width=".3"><text x="415.4" y="340">Grm2</text><text x="434.3" y="335.1">Grm8</text><text x="384.6" y="349.2">Penk</text><text x="402.3" y="346.2">Anxa1</text><text x="426" y="346.2">Acl</text><text x="439.5" y="350">Lpar2</text><text x="397.7" y="353">Plcb1</text><text x="411.5" y="353">Lpar3</text><text x="410" y="358.2">Adr2</text><text x="424.6" y="358.2">Grm1</text><text x="385.4" y="361.5">Mchr2</text><text x="400.8" y="364.6">Cd36</text><text x="435.4" y="368">Lpar5</text><text x="450" y="360.8">Grm3</text><text x="471.5" y="363.1">Gpr17</text><text x="456.9" y="372.3">Lpar1</text><text x="393.8" y="370.8">Mchr1</text><text x="410" y="375.4">Nmur2</text><text x="434.6" y="376.2">Nmur1</text><text x="490" y="377.8">Gnb1</text><text x="383.8" y="383.1">Fgf23</text><text x="401.5" y="387.4">Vngf</text><text x="416.2" y="382.8">Brs3</text><text x="430" y="384.6">Fpr2</text><text x="446.2" y="384">Pmch</text><text x="420" y="390.2">Gng2</text><text x="386.9" y="394.3">Fn1</text><text x="403" y="396.6">Crk</text><text x="432.3" y="399.3">Nms</text><text x="463" y="389.2">Saa1</text><text x="490.8" y="393.5">Nmu</text><text x="443.8" y="395">Pik3r5</text><text x="458.5" y="401.2">Pik3r6</text><text x="382.3" y="402">Calm1</text><text x="420" y="402">Kit</text><text x="387.7" y="408.9">Calm3</text><text x="410.8" y="408.9">Pros1</text><text x="452.3" y="410.8">Sos1</text><text x="433.8" y="413.5">Vav2</text><text x="371.5" y="414.2">Calm2</text><text x="354.6" y="414.6">Shc1</text><text x="403.6" y="416">Src</text><text x="422.3" y="417.4">Fyn</text><text x="353" y="440.8">Hsp90ab1</text><text x="417" y="436.2">Erbb2</text><text x="411.5" y="442.3">Lck</text><text x="431.5" y="446.2">Met</text><text x="404.6" y="451.5">Egfr</text></g>
<g font-size="11.5" fill="#111"><text x="8.6" y="22.9">A</text><text x="267.4" y="22.9">B</text><text x="8.4" y="312.6">C</text><text x="267.4" y="312.4">D</text></g>
<g font-size="9" fill="#111" stroke="#111" stroke-width=".3"><circle cx="13.3" cy="247.4" r="4.6" fill="#5353a3"/><text x="24.2" y="250.3" textLength="76.2" lengthAdjust="spacingAndGlyphs">Mouse thrombosis</text><circle cx="13.3" cy="266.7" r="4.6" fill="#b9434f"/><text x="24.2" y="269.6" textLength="133.3" lengthAdjust="spacingAndGlyphs">Mouse thrombosis and bleeding</text><circle cx="271.5" cy="247.4" r="4.6" fill="#7bb661"/><text x="282.4" y="250.3" textLength="116.2" lengthAdjust="spacingAndGlyphs">Human Mendelian disorders</text><circle cx="271.5" cy="266.7" r="4.6" fill="#e5a43f"/><text x="282.4" y="269.6" textLength="86.5" lengthAdjust="spacingAndGlyphs">GWAS Platelet_count</text><circle cx="13.3" cy="550.4" r="4.6" fill="#7bb661"/><text x="24.2" y="553.3" textLength="116.2" lengthAdjust="spacingAndGlyphs">Human Mendelian disorders</text><circle cx="13.3" cy="569.8" r="4.6" fill="#e5a43f"/><text x="24.2" y="572.7" textLength="86.5" lengthAdjust="spacingAndGlyphs">GWAS Platelet_count</text><circle cx="13.3" cy="589.2" r="4.6" fill="#7b69b3"/><text x="24.2" y="592.1" textLength="75.1" lengthAdjust="spacingAndGlyphs">GWAS Stroke/CAD</text><circle cx="271.5" cy="550.4" r="4.6" fill="#5353a3"/><text x="282.4" y="553.3" textLength="76.2" lengthAdjust="spacingAndGlyphs">Mouse thrombosis</text><circle cx="271.5" cy="569.8" r="4.6" fill="#b9434f"/><text x="282.4" y="572.7" textLength="133.5" lengthAdjust="spacingAndGlyphs">Mouse thrombosis and bleeding</text><circle cx="271.5" cy="589.3" r="4.6" fill="#f7e41d"/><text x="282.4" y="592.2" textLength="79.2" lengthAdjust="spacingAndGlyphs">Mouse novel genes</text></g>
<path d="M.7 0V602M0 .7H520" stroke="#1e1e1e" stroke-width="1.4" fill="none"/><path d="M519.5 0V602M0 601.5H520" stroke="#111" stroke-width="1" fill="none"/>
</svg>
</body></html>
